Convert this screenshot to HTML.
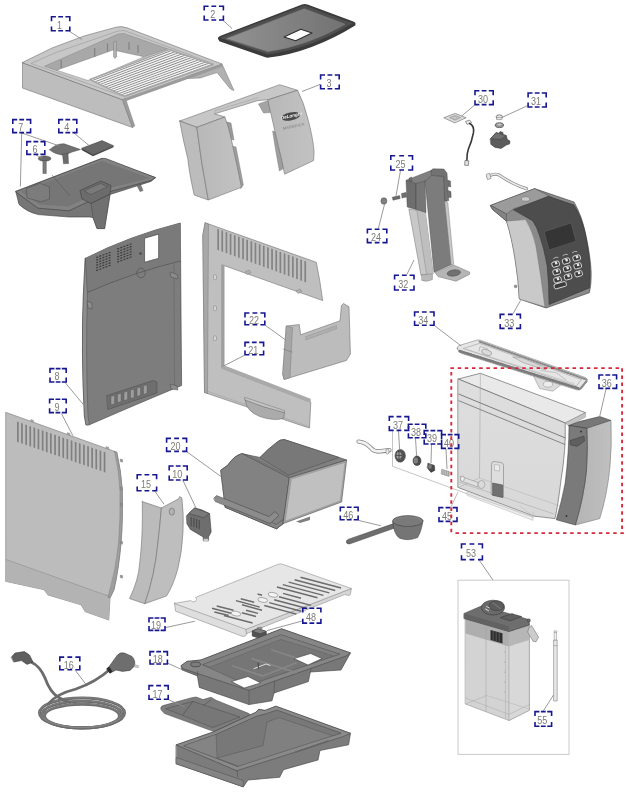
<!DOCTYPE html>
<html lang="en"><head><meta charset="utf-8"><title>Exploded parts diagram</title>
<style>
html,body{margin:0;padding:0;background:#fff}
body{width:627px;height:800px;overflow:hidden}
svg{display:block}
.n{font-family:"Liberation Sans",sans-serif;font-size:10.4px;fill:#7c7c76}
.t{font-family:"Liberation Sans",sans-serif}
</style></head><body>
<svg width="627" height="800" viewBox="0 0 627 800">
<defs>
<linearGradient id="gL" x1="0" y1="0" x2="1" y2="0"><stop offset="0" stop-color="#b8b8b8"/><stop offset="1" stop-color="#c2c2c2"/></linearGradient>
<linearGradient id="gL2" x1="0" y1="0" x2="1" y2="0"><stop offset="0" stop-color="#c7c7c7"/><stop offset="1" stop-color="#afafaf"/></linearGradient>
<linearGradient id="gLid" x1="0" y1="0" x2="1" y2="0"><stop offset="0" stop-color="#929292"/><stop offset="1" stop-color="#727272"/></linearGradient>
<linearGradient id="gD" x1="0" y1="0" x2="1" y2="1"><stop offset="0" stop-color="#7e7e7e"/><stop offset="1" stop-color="#767676"/></linearGradient>
<linearGradient id="gDoor" x1="0" y1="0" x2="1" y2="0"><stop offset="0" stop-color="#b4b4b4"/><stop offset="1" stop-color="#c0c0c0"/></linearGradient>
<linearGradient id="gTank" x1="0" y1="0" x2="0" y2="1"><stop offset="0" stop-color="#dedede"/><stop offset="1" stop-color="#d8d8d8"/></linearGradient>
<filter id="soft" x="-2%" y="-2%" width="104%" height="104%"><feGaussianBlur stdDeviation="0.45"/></filter>
</defs>
<rect width="627" height="800" fill="#fff"/>
<g filter="url(#soft)">

<g id="p1">
<polygon points="186.7,76.5 200.0,71.0 222.0,64.0 234.0,90.5 230.4,89.0 217.0,72.6 200.0,78.0 188.4,78.4" fill="#b1b1b1" stroke="#707070" stroke-width="0.5" stroke-linejoin="round" />
<polygon points="22.4,62.5 122.4,99.5 132.5,127.5 22.4,88.0" fill="#bdbdbd" stroke="#707070" stroke-width="0.6" stroke-linejoin="round" />
<polygon points="122.4,99.5 125.5,98.6 134.8,126.0 132.5,127.5" fill="#9d9d9d" stroke="#707070" stroke-width="0.4" stroke-linejoin="round" />
<path d="M22.4,62.5 L52,48 L84,36 L116,27.2 Q121,25.8 127,27.8 L222,64 L122.4,99.5 Z" fill="#c7c7c7" stroke="#707070" stroke-width="0.6" stroke-linejoin="round" stroke-linecap="round" />
<polygon points="44.5,66.2 118.0,34.0 124.0,33.4 212.0,64.6 205.0,66.4 167.0,49.0 144.0,56.8 113.0,50.0 56.7,70.4" fill="#a8a8a8" stroke="#868686" stroke-width="0.5" stroke-linejoin="round" />
<polygon points="31.0,63.5 56.0,52.5 118.0,31.0 124.0,30.5 214.0,64.0 122.4,96.0" fill="none" stroke="#909090" stroke-width="0.5" stroke-linejoin="round" />
<polygon points="56.7,70.2 113.0,50.0 144.0,56.8 88.0,80.5" fill="#fff" stroke="#868686" stroke-width="0.5" stroke-linejoin="round" />
<line x1="61.2" y1="60.0" x2="61.2" y2="68.0" stroke="#848484" stroke-width="1.3" />
<line x1="94.7" y1="48.0" x2="94.7" y2="57.0" stroke="#848484" stroke-width="1.3" />
<line x1="107.5" y1="43.5" x2="107.5" y2="51.5" stroke="#848484" stroke-width="1.3" />
<line x1="129.0" y1="42.0" x2="129.0" y2="50.0" stroke="#848484" stroke-width="1.3" />
<line x1="138.0" y1="45.0" x2="138.0" y2="53.0" stroke="#848484" stroke-width="1.3" />
<polygon points="113.6,42.0 116.4,41.4 116.6,57.0 115.0,58.4 113.6,57.0" fill="#b1b1b1" stroke="#7c7c7c" stroke-width="0.5" stroke-linejoin="round" />
<polygon points="90.0,79.6 169.0,49.6 213.0,64.6 124.6,96.4" fill="#cfcfcf" stroke="#808080" stroke-width="0.6" stroke-linejoin="round" />
<line x1="90.9" y1="80.1" x2="170.2" y2="50.0" stroke="#f4f4f4" stroke-width="1.4" />
<line x1="92.1" y1="80.6" x2="171.7" y2="50.5" stroke="#858585" stroke-width="0.9" />
<line x1="93.6" y1="81.3" x2="173.6" y2="51.2" stroke="#f4f4f4" stroke-width="1.4" />
<line x1="94.8" y1="81.9" x2="175.1" y2="51.7" stroke="#858585" stroke-width="0.9" />
<line x1="96.3" y1="82.6" x2="177.0" y2="52.3" stroke="#f4f4f4" stroke-width="1.4" />
<line x1="97.5" y1="83.2" x2="178.5" y2="52.8" stroke="#858585" stroke-width="0.9" />
<line x1="98.9" y1="83.9" x2="180.3" y2="53.5" stroke="#f4f4f4" stroke-width="1.4" />
<line x1="100.1" y1="84.5" x2="181.9" y2="54.0" stroke="#858585" stroke-width="0.9" />
<line x1="101.6" y1="85.2" x2="183.7" y2="54.6" stroke="#f4f4f4" stroke-width="1.4" />
<line x1="102.8" y1="85.8" x2="185.2" y2="55.1" stroke="#858585" stroke-width="0.9" />
<line x1="104.2" y1="86.5" x2="187.1" y2="55.8" stroke="#f4f4f4" stroke-width="1.4" />
<line x1="105.4" y1="87.1" x2="188.6" y2="56.3" stroke="#858585" stroke-width="0.9" />
<line x1="106.9" y1="87.8" x2="190.5" y2="56.9" stroke="#f4f4f4" stroke-width="1.4" />
<line x1="108.1" y1="88.4" x2="192.0" y2="57.4" stroke="#858585" stroke-width="0.9" />
<line x1="109.6" y1="89.1" x2="193.9" y2="58.1" stroke="#f4f4f4" stroke-width="1.4" />
<line x1="110.8" y1="89.7" x2="195.4" y2="58.6" stroke="#858585" stroke-width="0.9" />
<line x1="112.2" y1="90.4" x2="197.3" y2="59.2" stroke="#f4f4f4" stroke-width="1.4" />
<line x1="113.4" y1="91.0" x2="198.8" y2="59.8" stroke="#858585" stroke-width="0.9" />
<line x1="114.9" y1="91.7" x2="200.6" y2="60.4" stroke="#f4f4f4" stroke-width="1.4" />
<line x1="116.1" y1="92.3" x2="202.2" y2="60.9" stroke="#858585" stroke-width="0.9" />
<line x1="117.5" y1="93.0" x2="204.0" y2="61.5" stroke="#f4f4f4" stroke-width="1.4" />
<line x1="118.7" y1="93.6" x2="205.6" y2="62.1" stroke="#858585" stroke-width="0.9" />
<line x1="120.2" y1="94.3" x2="207.4" y2="62.7" stroke="#f4f4f4" stroke-width="1.4" />
<line x1="121.4" y1="94.8" x2="208.9" y2="63.2" stroke="#858585" stroke-width="0.9" />
<line x1="122.9" y1="95.6" x2="210.8" y2="63.8" stroke="#f4f4f4" stroke-width="1.4" />
<line x1="124.1" y1="96.1" x2="212.3" y2="64.4" stroke="#858585" stroke-width="0.9" />
<polygon points="90.0,79.6 169.0,49.6 213.0,64.6 124.6,96.4" fill="none" stroke="#b8b8b8" stroke-width="1.6" stroke-linejoin="round" />
<polygon points="90.0,79.6 169.0,49.6 213.0,64.6 124.6,96.4" fill="none" stroke="#808080" stroke-width="0.4" stroke-linejoin="round" />
<polygon points="122.4,99.5 222.0,64.0 222.8,66.5 123.3,102.0" fill="#9b9b9b" />
</g>
<g id="p2">
<path d="M217.9,38.6 Q217.5,37 220,36 L302,4.4 Q304.6,3.4 307.5,4.5 L354,21.8 Q356.4,23 355.2,25.4 Q312,52 269,57.6 Q266.5,57.8 264,56.8 L219.3,41.2 Z" fill="#3a3a3a" />
<path d="M219.6,37.8 L304.3,5.2 L352.6,23.2 Q311,48.6 267.6,54.4 Z" fill="#505050" />
<path d="M226.5,38.6 L304.3,8.8 L345,24.2 Q308,45.6 268,51.6 Z" fill="url(#gLid)" stroke="#7e7e7e" stroke-width="0.6" stroke-linejoin="round" stroke-linecap="round" />
<polygon points="284.0,37.0 300.8,29.3 312.0,33.0 295.7,40.8" fill="#fff" stroke="#2e2e2e" stroke-width="1.1" stroke-linejoin="round" />
</g>
<g id="p3">
<polygon points="225.0,121.5 231.0,123.0 234.0,140.0 230.0,139.0" fill="#9b9b9b" stroke="#707070" stroke-width="0.4" stroke-linejoin="round" />
<polygon points="232.0,146.0 236.0,147.0 243.4,185.0 240.6,188.6 238.5,176.0" fill="#9e9e9e" stroke="#707070" stroke-width="0.4" stroke-linejoin="round" />
<polygon points="258.5,104.0 268.2,100.5 270.5,112.5 263.5,113.0" fill="#a4a4a4" stroke="#707070" stroke-width="0.4" stroke-linejoin="round" />
<polygon points="272.6,131.0 277.0,132.6 284.0,168.0 279.4,171.0 275.6,150.0" fill="#9e9e9e" stroke="#707070" stroke-width="0.4" stroke-linejoin="round" />
<polygon points="179.7,121.0 279.7,84.7 297.6,90.3 268.2,99.7 258.0,100.5 214.7,113.8 224.9,117.0 196.8,127.3" fill="#c7c7c7" stroke="#707070" stroke-width="0.6" stroke-linejoin="round" />
<path d="M214.7,113.8 L214.7,110.9 L258,97.6" fill="none" stroke="#929292" stroke-width="0.4" stroke-linejoin="round" stroke-linecap="round" />
<path d="M179.7,121 L196.8,127.3 Q201,162 208.3,200 L194.2,195 Q189,172 187.9,159.2 Q183,140 179.7,121 Z" fill="#bcbcbc" stroke="#707070" stroke-width="0.6" stroke-linejoin="round" stroke-linecap="round" />
<path d="M196.8,127.3 L224.9,117 Q229,128 231.2,138.8 L238.9,174.5 L241.4,187.3 L208.3,200 Q201,162 196.8,127.3 Z" fill="url(#gL)" stroke="#707070" stroke-width="0.6" stroke-linejoin="round" stroke-linecap="round" />
<path d="M268.2,99.7 L297.6,90.3 Q304,103 307.8,118.4 Q313,138 314.1,151.5 L313.6,160.6 L284.6,174.2 Q281.5,158 278.4,146.4 L272,118.4 Z" fill="url(#gL)" stroke="#707070" stroke-width="0.6" stroke-linejoin="round" stroke-linecap="round" />
<ellipse cx="290.8" cy="116.4" rx="9.8" ry="4" transform="rotate(-12 290.8 116.4)" fill="#484848"/>
<text x="291.3" y="117.3" text-anchor="middle" class="t" font-size="4.6" font-weight="bold" font-style="italic" fill="#fafafa" transform="rotate(-12 291.3 115.8)">DeLonghi</text>
<text x="293.6" y="127.6" text-anchor="middle" class="t" font-size="3.9" fill="#7c7c7c" transform="rotate(-12 293.6 126)">MAGNIFICA</text>
</g>
<g id="p4">
<polygon points="81.6,148.3 102.0,140.6 113.5,145.7 93.0,154.6" fill="#686868" stroke="#3e3e3e" stroke-width="0.5" stroke-linejoin="round" />
<polygon points="81.6,148.3 93.0,154.6 93.0,156.2 81.6,150.0" fill="#3f3f3f" />
<polygon points="93.0,154.6 113.5,145.7 113.5,147.2 93.0,156.2" fill="#484848" />
<path d="M49.7,149.8 Q56,143.5 64,143.8 L80.4,149.5 L72,152 L64,155.2 Q55,154.5 49.7,149.8 Z" fill="#717171" stroke="#3e3e3e" stroke-width="0.5" stroke-linejoin="round" stroke-linecap="round" />
<polygon points="62.5,154.0 68.0,153.0 68.5,163.5 63.5,163.8" fill="#6c6c6c" stroke="#3e3e3e" stroke-width="0.4" stroke-linejoin="round" />
<ellipse cx="44.6" cy="158.6" rx="6.3" ry="2.6" fill="#6a6a6a" stroke="#3b3b3b" stroke-width="0.5"/>
<polygon points="42.9,160.5 46.3,160.5 46.3,173.5 42.9,173.5" fill="#7c7c7c" stroke="#3e3e3e" stroke-width="0.4" stroke-linejoin="round" />
</g>
<g id="p7">
<path d="M15.8,191.6 L19,204.4 Q27,212 38.3,214.6 L68.9,217 L89.3,217 L93,217.5 L97,228.6 L104.6,228.6 L110,194.5 L151,181.4 L155.6,177.6 L102,158.5 Z" fill="#767676" stroke="#3e3e3e" stroke-width="0.6" stroke-linejoin="round" stroke-linecap="round" />
<polygon points="91.0,203.0 110.0,194.5 104.6,228.6 97.0,228.6 93.0,217.5" fill="#6f6f6f" stroke="#3e3e3e" stroke-width="0.4" stroke-linejoin="round" />
<path d="M15.8,191.6 L102,158.5 Q104,158 106,158.6 L155.6,177.6 L151,180.4 L110,191.6 L68.9,210.8 L38.3,208.2 Z" fill="#828282" stroke="#3e3e3e" stroke-width="0.6" stroke-linejoin="round" stroke-linecap="round" />
<path d="M21,191.6 L102,161 L150,178 L108,188.6 L68,206.6 L39,204.6 Z" fill="#767676" />
<polygon points="26.5,188.5 40.0,183.2 49.5,187.0 49.5,199.0 41.0,201.8 27.0,198.0" fill="#7b7b7b" stroke="#4c4c4c" stroke-width="0.5" stroke-linejoin="round" />
<polygon points="80.0,190.5 101.0,181.0 111.0,185.5 110.0,194.0 91.0,203.5 82.0,199.0" fill="#6c6c6c" stroke="#3f3f3f" stroke-width="0.6" stroke-linejoin="round" />
<polygon points="84.0,190.8 100.5,183.5 107.5,186.7 91.0,194.6" fill="#7a7a7a" stroke="#3f3f3f" stroke-width="0.4" stroke-linejoin="round" />
<line x1="52.0" y1="175.0" x2="70.0" y2="196.0" stroke="#535353" stroke-width="0.5" />
<polygon points="137.0,185.4 140.5,184.4 143.0,190.6 140.0,191.6" fill="#7c7c7c" stroke="#3e3e3e" stroke-width="0.4" stroke-linejoin="round" />
</g>
<g id="p8">
<path d="M85.4,258.3 Q129,236 180.3,223 L181.6,385.5 Q137,404 89.3,424.8 L86,425 L84.4,416 Q81,350 83.4,294 Z" fill="#7d7d7d" stroke="#3e3e3e" stroke-width="0.6" stroke-linejoin="round" stroke-linecap="round" />
<path d="M85.4,258.3 Q129,236 180.3,223 L180.6,261 Q134,272 86,293 Z" fill="#7a7a7a" />
<path d="M86,293 Q134,272 180.6,261" fill="none" stroke="#4e4e4e" stroke-width="0.6" stroke-linejoin="round" stroke-linecap="round" />
<path d="M85.4,258.3 L83.4,294 Q81,350 84.4,416 L86,425 L89.3,424.8 L88,416 Q85.5,350 87.4,296 Z" fill="#8e8e8e" stroke="#3e3e3e" stroke-width="0.4" stroke-linejoin="round" stroke-linecap="round" />
<path d="M174,264 L174.6,385 " fill="none" stroke="#656565" stroke-width="0.6" stroke-linejoin="round" stroke-linecap="round" />
<polygon points="144.6,238.2 158.6,234.2 158.6,258.3 144.6,262.2" fill="#fff" stroke="#3b3b3b" stroke-width="0.6" stroke-linejoin="round" />
<rect x="96.0" y="257.0" width="2.1" height="1.2" fill="#3d3d3d" transform="rotate(-20 96.0 257.0)"/>
<rect x="99.1" y="255.8" width="2.1" height="1.2" fill="#3d3d3d" transform="rotate(-20 99.1 255.8)"/>
<rect x="102.2" y="254.7" width="2.1" height="1.2" fill="#3d3d3d" transform="rotate(-20 102.2 254.7)"/>
<rect x="105.3" y="253.6" width="2.1" height="1.2" fill="#3d3d3d" transform="rotate(-20 105.3 253.6)"/>
<rect x="108.4" y="252.4" width="2.1" height="1.2" fill="#3d3d3d" transform="rotate(-20 108.4 252.4)"/>
<rect x="96.0" y="259.6" width="2.1" height="1.2" fill="#3d3d3d" transform="rotate(-20 96.0 259.6)"/>
<rect x="99.1" y="258.5" width="2.1" height="1.2" fill="#3d3d3d" transform="rotate(-20 99.1 258.5)"/>
<rect x="102.2" y="257.3" width="2.1" height="1.2" fill="#3d3d3d" transform="rotate(-20 102.2 257.3)"/>
<rect x="105.3" y="256.2" width="2.1" height="1.2" fill="#3d3d3d" transform="rotate(-20 105.3 256.2)"/>
<rect x="108.4" y="255.0" width="2.1" height="1.2" fill="#3d3d3d" transform="rotate(-20 108.4 255.0)"/>
<rect x="96.0" y="262.2" width="2.1" height="1.2" fill="#3d3d3d" transform="rotate(-20 96.0 262.2)"/>
<rect x="99.1" y="261.1" width="2.1" height="1.2" fill="#3d3d3d" transform="rotate(-20 99.1 261.1)"/>
<rect x="102.2" y="259.9" width="2.1" height="1.2" fill="#3d3d3d" transform="rotate(-20 102.2 259.9)"/>
<rect x="105.3" y="258.8" width="2.1" height="1.2" fill="#3d3d3d" transform="rotate(-20 105.3 258.8)"/>
<rect x="108.4" y="257.6" width="2.1" height="1.2" fill="#3d3d3d" transform="rotate(-20 108.4 257.6)"/>
<rect x="96.0" y="264.8" width="2.1" height="1.2" fill="#3d3d3d" transform="rotate(-20 96.0 264.8)"/>
<rect x="99.1" y="263.7" width="2.1" height="1.2" fill="#3d3d3d" transform="rotate(-20 99.1 263.7)"/>
<rect x="102.2" y="262.5" width="2.1" height="1.2" fill="#3d3d3d" transform="rotate(-20 102.2 262.5)"/>
<rect x="105.3" y="261.4" width="2.1" height="1.2" fill="#3d3d3d" transform="rotate(-20 105.3 261.4)"/>
<rect x="108.4" y="260.2" width="2.1" height="1.2" fill="#3d3d3d" transform="rotate(-20 108.4 260.2)"/>
<rect x="96.0" y="267.4" width="2.1" height="1.2" fill="#3d3d3d" transform="rotate(-20 96.0 267.4)"/>
<rect x="99.1" y="266.2" width="2.1" height="1.2" fill="#3d3d3d" transform="rotate(-20 99.1 266.2)"/>
<rect x="102.2" y="265.1" width="2.1" height="1.2" fill="#3d3d3d" transform="rotate(-20 102.2 265.1)"/>
<rect x="105.3" y="263.9" width="2.1" height="1.2" fill="#3d3d3d" transform="rotate(-20 105.3 263.9)"/>
<rect x="108.4" y="262.8" width="2.1" height="1.2" fill="#3d3d3d" transform="rotate(-20 108.4 262.8)"/>
<rect x="96.0" y="270.0" width="2.1" height="1.2" fill="#3d3d3d" transform="rotate(-20 96.0 270.0)"/>
<rect x="99.1" y="268.9" width="2.1" height="1.2" fill="#3d3d3d" transform="rotate(-20 99.1 268.9)"/>
<rect x="102.2" y="267.7" width="2.1" height="1.2" fill="#3d3d3d" transform="rotate(-20 102.2 267.7)"/>
<rect x="105.3" y="266.6" width="2.1" height="1.2" fill="#3d3d3d" transform="rotate(-20 105.3 266.6)"/>
<rect x="108.4" y="265.4" width="2.1" height="1.2" fill="#3d3d3d" transform="rotate(-20 108.4 265.4)"/>
<rect x="117.0" y="248.5" width="2.1" height="1.2" fill="#3d3d3d" transform="rotate(-20 117.0 248.5)"/>
<rect x="120.1" y="247.3" width="2.1" height="1.2" fill="#3d3d3d" transform="rotate(-20 120.1 247.3)"/>
<rect x="123.2" y="246.2" width="2.1" height="1.2" fill="#3d3d3d" transform="rotate(-20 123.2 246.2)"/>
<rect x="126.3" y="245.1" width="2.1" height="1.2" fill="#3d3d3d" transform="rotate(-20 126.3 245.1)"/>
<rect x="129.4" y="243.9" width="2.1" height="1.2" fill="#3d3d3d" transform="rotate(-20 129.4 243.9)"/>
<rect x="117.0" y="251.1" width="2.1" height="1.2" fill="#3d3d3d" transform="rotate(-20 117.0 251.1)"/>
<rect x="120.1" y="249.9" width="2.1" height="1.2" fill="#3d3d3d" transform="rotate(-20 120.1 249.9)"/>
<rect x="123.2" y="248.8" width="2.1" height="1.2" fill="#3d3d3d" transform="rotate(-20 123.2 248.8)"/>
<rect x="126.3" y="247.7" width="2.1" height="1.2" fill="#3d3d3d" transform="rotate(-20 126.3 247.7)"/>
<rect x="129.4" y="246.5" width="2.1" height="1.2" fill="#3d3d3d" transform="rotate(-20 129.4 246.5)"/>
<rect x="117.0" y="253.7" width="2.1" height="1.2" fill="#3d3d3d" transform="rotate(-20 117.0 253.7)"/>
<rect x="120.1" y="252.5" width="2.1" height="1.2" fill="#3d3d3d" transform="rotate(-20 120.1 252.5)"/>
<rect x="123.2" y="251.4" width="2.1" height="1.2" fill="#3d3d3d" transform="rotate(-20 123.2 251.4)"/>
<rect x="126.3" y="250.2" width="2.1" height="1.2" fill="#3d3d3d" transform="rotate(-20 126.3 250.2)"/>
<rect x="129.4" y="249.1" width="2.1" height="1.2" fill="#3d3d3d" transform="rotate(-20 129.4 249.1)"/>
<rect x="117.0" y="256.3" width="2.1" height="1.2" fill="#3d3d3d" transform="rotate(-20 117.0 256.3)"/>
<rect x="120.1" y="255.2" width="2.1" height="1.2" fill="#3d3d3d" transform="rotate(-20 120.1 255.2)"/>
<rect x="123.2" y="254.0" width="2.1" height="1.2" fill="#3d3d3d" transform="rotate(-20 123.2 254.0)"/>
<rect x="126.3" y="252.9" width="2.1" height="1.2" fill="#3d3d3d" transform="rotate(-20 126.3 252.9)"/>
<rect x="129.4" y="251.7" width="2.1" height="1.2" fill="#3d3d3d" transform="rotate(-20 129.4 251.7)"/>
<rect x="117.0" y="258.9" width="2.1" height="1.2" fill="#3d3d3d" transform="rotate(-20 117.0 258.9)"/>
<rect x="120.1" y="257.8" width="2.1" height="1.2" fill="#3d3d3d" transform="rotate(-20 120.1 257.8)"/>
<rect x="123.2" y="256.6" width="2.1" height="1.2" fill="#3d3d3d" transform="rotate(-20 123.2 256.6)"/>
<rect x="126.3" y="255.4" width="2.1" height="1.2" fill="#3d3d3d" transform="rotate(-20 126.3 255.4)"/>
<rect x="129.4" y="254.3" width="2.1" height="1.2" fill="#3d3d3d" transform="rotate(-20 129.4 254.3)"/>
<rect x="117.0" y="261.5" width="2.1" height="1.2" fill="#3d3d3d" transform="rotate(-20 117.0 261.5)"/>
<rect x="120.1" y="260.4" width="2.1" height="1.2" fill="#3d3d3d" transform="rotate(-20 120.1 260.4)"/>
<rect x="123.2" y="259.2" width="2.1" height="1.2" fill="#3d3d3d" transform="rotate(-20 123.2 259.2)"/>
<rect x="126.3" y="258.1" width="2.1" height="1.2" fill="#3d3d3d" transform="rotate(-20 126.3 258.1)"/>
<rect x="129.4" y="256.9" width="2.1" height="1.2" fill="#3d3d3d" transform="rotate(-20 129.4 256.9)"/>
<ellipse cx="141" cy="273" rx="4.2" ry="4.8" fill="none" stroke="#4e4e4e" stroke-width="0.6"/>
<polygon points="170.0,272.0 177.0,274.5 178.0,279.0 171.0,277.0" fill="#8c8c8c" stroke="#3e3e3e" stroke-width="0.4" stroke-linejoin="round" />
<polygon points="170.0,384.0 177.0,386.0 178.0,390.0 171.0,389.0" fill="#8c8c8c" stroke="#3e3e3e" stroke-width="0.4" stroke-linejoin="round" />
<polygon points="87.0,301.0 92.0,303.0 92.0,309.0 88.0,308.0" fill="#8c8c8c" stroke="#3e3e3e" stroke-width="0.4" stroke-linejoin="round" />
<circle cx="140.5" cy="253.5" r="1.3" fill="#4c4c4c"/>
<path d="M107,395.5 L153,380.5 L157,382 L157,393 L108,409.5 Z" fill="#6e6e6e" stroke="#4c4c4c" stroke-width="0.5" stroke-linejoin="round" stroke-linecap="round" />
<polygon points="111.0,396.5 114.6,395.3 114.6,403.7 111.0,404.9" fill="#9d9d9d" stroke="#3f3f3f" stroke-width="0.3" stroke-linejoin="round" />
<polygon points="117.5,394.4 121.1,393.2 121.1,401.6 117.5,402.8" fill="#9d9d9d" stroke="#3f3f3f" stroke-width="0.3" stroke-linejoin="round" />
<polygon points="124.0,392.3 127.6,391.1 127.6,399.5 124.0,400.7" fill="#9d9d9d" stroke="#3f3f3f" stroke-width="0.3" stroke-linejoin="round" />
<polygon points="130.5,390.2 134.1,389.0 134.1,397.4 130.5,398.6" fill="#9d9d9d" stroke="#3f3f3f" stroke-width="0.3" stroke-linejoin="round" />
<polygon points="137.0,388.1 140.6,386.9 140.6,395.3 137.0,396.5" fill="#9d9d9d" stroke="#3f3f3f" stroke-width="0.3" stroke-linejoin="round" />
<polygon points="143.5,386.0 147.1,384.8 147.1,393.2 143.5,394.4" fill="#9d9d9d" stroke="#3f3f3f" stroke-width="0.3" stroke-linejoin="round" />
</g>
<g id="p21">
<path d="M205.3,222.8 L316.3,262.3 Q320,280 322.7,300.6 L221.9,264.8 L221.9,368.2 L310.8,402.4 L309.5,428 L300,425 L204.5,392.5 L202.8,235.5 Z" fill="#bfbfbf" stroke="#707070" stroke-width="0.6" stroke-linejoin="round" stroke-linecap="round" />
<polygon points="205.3,222.8 208.5,224.0 207.5,393.5 204.5,392.5 202.8,235.5" fill="#a8a8a8" stroke="#707070" stroke-width="0.4" stroke-linejoin="round" />
<polygon points="221.9,264.8 224.5,265.8 224.5,365.5 221.9,368.2" fill="#9e9e9e" />
<polygon points="221.9,368.2 224.5,365.5 310.6,398.8 310.8,402.4" fill="#aaaaaa" />
<line x1="205.4" y1="390.6" x2="309.3" y2="426.6" stroke="#9a9a9a" stroke-width="0.5" />
<polygon points="217.3,228.8 219.0,229.4 219.0,250.4 217.3,249.8" fill="#838383" />
<polygon points="221.4,230.3 223.1,230.9 223.1,251.9 221.4,251.3" fill="#838383" />
<polygon points="225.6,231.8 227.3,232.4 227.3,253.4 225.6,252.8" fill="#838383" />
<polygon points="229.7,233.4 231.4,234.0 231.4,255.0 229.7,254.4" fill="#838383" />
<polygon points="233.9,234.9 235.6,235.5 235.6,256.5 233.9,255.9" fill="#838383" />
<polygon points="238.0,236.4 239.7,237.0 239.7,258.0 238.0,257.4" fill="#838383" />
<polygon points="242.2,237.9 243.9,238.5 243.9,259.5 242.2,258.9" fill="#838383" />
<polygon points="246.3,239.5 248.0,240.1 248.0,261.1 246.3,260.5" fill="#838383" />
<polygon points="250.5,241.0 252.2,241.6 252.2,262.6 250.5,262.0" fill="#838383" />
<polygon points="254.6,242.5 256.3,243.1 256.3,264.1 254.6,263.5" fill="#838383" />
<polygon points="258.8,244.0 260.5,244.6 260.5,265.6 258.8,265.0" fill="#838383" />
<polygon points="262.9,245.6 264.6,246.2 264.6,267.2 262.9,266.6" fill="#838383" />
<polygon points="267.1,247.1 268.8,247.7 268.8,268.7 267.1,268.1" fill="#838383" />
<polygon points="271.2,248.6 272.9,249.2 272.9,270.2 271.2,269.6" fill="#838383" />
<polygon points="275.4,250.1 277.1,250.7 277.1,271.7 275.4,271.1" fill="#838383" />
<polygon points="279.5,251.7 281.2,252.3 281.2,273.3 279.5,272.7" fill="#838383" />
<polygon points="283.7,253.2 285.4,253.8 285.4,274.8 283.7,274.2" fill="#838383" />
<polygon points="287.8,254.7 289.5,255.3 289.5,276.3 287.8,275.7" fill="#838383" />
<polygon points="292.0,256.2 293.7,256.8 293.7,277.8 292.0,277.2" fill="#838383" />
<polygon points="296.1,257.8 297.8,258.4 297.8,279.4 296.1,278.8" fill="#838383" />
<polygon points="300.3,259.3 302.0,259.9 302.0,280.9 300.3,280.3" fill="#838383" />
<polygon points="304.4,260.8 306.1,261.4 306.1,282.4 304.4,281.8" fill="#838383" />
<polygon points="245.0,272.0 249.0,270.0 251.0,272.5 247.0,274.5" fill="#b1b1b1" stroke="#707070" stroke-width="0.4" stroke-linejoin="round" />
<polygon points="296.0,291.0 300.0,289.0 302.0,291.5 298.0,293.5" fill="#b1b1b1" stroke="#707070" stroke-width="0.4" stroke-linejoin="round" />
<rect x="213.5" y="275" width="3" height="4.6" rx="0.8" fill="#d3d3d3" stroke="#828282" stroke-width="0.5"/>
<rect x="213.5" y="306" width="3" height="4.6" rx="0.8" fill="#d3d3d3" stroke="#828282" stroke-width="0.5"/>
<rect x="213.5" y="336" width="3" height="4.6" rx="0.8" fill="#d3d3d3" stroke="#828282" stroke-width="0.5"/>
<path d="M245.2,400 Q246,411 260,416.6 Q275,421.6 283.8,418 L284.5,412.6 Q262,407 245.2,400 Z" fill="#ababab" stroke="#707070" stroke-width="0.6" stroke-linejoin="round" stroke-linecap="round" />
<path d="M245.2,400 Q262,407 284.5,412.6 L284.6,410.6 L245,397.4 Z" fill="#c4c4c4" stroke="#707070" stroke-width="0.5" stroke-linejoin="round" stroke-linecap="round" />
</g>
<g id="p22">
<path d="M286.6,326 L299.3,324.6 L300.6,334.8 L340,320.8 L341.4,305.5 L343.5,303.5 L349,306.8 L350.4,354 L346.5,360.4 L284,379.5 L282.8,374.4 Z" fill="#bcbcbc" stroke="#707070" stroke-width="0.6" stroke-linejoin="round" stroke-linecap="round" />
<path d="M286.6,326 L292.5,327.5 L290,377.6 L284,379.5 L282.8,374.4 Z" fill="#a6a6a6" stroke="#707070" stroke-width="0.4" stroke-linejoin="round" stroke-linecap="round" />
<path d="M306,336.5 L336.5,325.6 L336.5,328.8 L306,339.8 Z" fill="#afafaf" stroke="#868686" stroke-width="0.4" stroke-linejoin="round" stroke-linecap="round" />
<path d="M283,349 L292,352" fill="none" stroke="#707070" stroke-width="0.5" stroke-linejoin="round" stroke-linecap="round" />
</g>
<ellipse cx="383.9" cy="201" rx="3" ry="3.3" fill="#808080" stroke="#4c4c4c" stroke-width="0.5"/>
<polygon points="392.3,197.2 399.6,195.6 400.2,198.6 393.0,200.2" fill="#6c6c6c" stroke="#3e3e3e" stroke-width="0.4" stroke-linejoin="round" />
<polygon points="401.5,193.5 406.0,192.5 406.5,197.0 402.0,198.0" fill="#717171" stroke="#3e3e3e" stroke-width="0.4" stroke-linejoin="round" />
<g id="p32">
<polygon points="425.0,181.0 431.6,175.2 443.8,176.3 452.7,264.0 434.0,272.2" fill="#7c7c7c" stroke="#3e3e3e" stroke-width="0.4" stroke-linejoin="round" />
<polygon points="444.6,200.7 447.8,202.3 453.7,264.0 451.2,265.6" fill="#c7c7c7" stroke="#707070" stroke-width="0.4" stroke-linejoin="round" />
<polygon points="408.8,208.8 425.4,212.0 433.2,273.8 421.0,275.4" fill="#c8c8c8" stroke="#707070" stroke-width="0.5" stroke-linejoin="round" />
<polygon points="416.8,210.3 425.4,212.0 433.2,273.8 426.6,274.7" fill="#bebebe" />
<line x1="416.8" y1="210.3" x2="426.6" y2="274.7" stroke="#8a8a8a" stroke-width="0.5" />
<path d="M421.8,274.8 L432.4,273.8 L432.4,279.6 Q427,282.6 421.8,280.4 Z" fill="#b9b9b9" stroke="#707070" stroke-width="0.4" stroke-linejoin="round" stroke-linecap="round" />
<polygon points="434.8,272.2 453.5,264.9 469.8,272.2 469.4,274.4 456.0,281.2 438.0,276.6" fill="#b5b5b5" stroke="#707070" stroke-width="0.5" stroke-linejoin="round" />
<ellipse cx="453.8" cy="273" rx="6.8" ry="3.1" transform="rotate(-8 453.8 273)" fill="#6f6f6f" stroke="#4c4c4c" stroke-width="0.5"/>
<polygon points="430.8,170.6 433.0,168.8 443.8,169.0 447.0,173.0 448.7,200.7 444.6,200.7 443.8,176.3 431.6,175.4" fill="#727272" stroke="#3e3e3e" stroke-width="0.4" stroke-linejoin="round" />
<polygon points="406.0,180.3 412.0,177.9 430.8,170.6 431.6,175.4 425.0,181.0 416.0,183.6" fill="#808080" stroke="#3e3e3e" stroke-width="0.4" stroke-linejoin="round" />
<polygon points="406.0,180.3 416.0,183.6 416.0,209.4 407.2,207.0" fill="#6e6e6e" stroke="#3e3e3e" stroke-width="0.4" stroke-linejoin="round" />
<polygon points="416.0,183.6 425.0,181.0 426.0,212.6 416.0,209.4" fill="#767676" stroke="#3e3e3e" stroke-width="0.4" stroke-linejoin="round" />
<polygon points="409.0,178.0 411.6,177.0 412.0,181.6 409.4,181.0" fill="#6e6e6e" stroke="#3e3e3e" stroke-width="0.3" stroke-linejoin="round" />
<polygon points="447.6,180.0 450.5,181.0 450.8,187.0 448.0,186.6" fill="#6f6f6f" stroke="#3e3e3e" stroke-width="0.3" stroke-linejoin="round" />
<polygon points="448.2,190.5 451.0,191.5 451.2,197.5 448.6,197.5" fill="#6f6f6f" stroke="#3e3e3e" stroke-width="0.3" stroke-linejoin="round" />
</g>
<g id="p30">
<polygon points="443.8,117.8 455.3,113.3 466.1,117.8 454.7,122.9" fill="#dcdcdc" stroke="#6a6a6a" stroke-width="0.6" stroke-linejoin="round" />
<polygon points="449.5,117.6 455.3,115.4 460.6,117.6 455.0,120.2" fill="#c4c4c4" stroke="#808080" stroke-width="0.5" stroke-linejoin="round" />
<circle cx="455" cy="117.8" r="1.1" fill="#f4f4f4" stroke="#777" stroke-width="0.4"/>
<polygon points="465.5,121.4 469.8,120.2 471.6,122.8 467.2,124.4" fill="#ececec" stroke="#555555" stroke-width="0.6" stroke-linejoin="round" />
<path d="M469.6,123.4 Q474.6,125.6 473.4,133 Q471.6,142 468.4,149 Q466.6,154 466.9,160.4" fill="none" stroke="#383838" stroke-width="1.6" stroke-linejoin="round" stroke-linecap="round" />
<polygon points="465.0,160.4 468.8,160.8 468.4,165.6 464.6,165.2" fill="#e0e0e0" stroke="#555555" stroke-width="0.6" stroke-linejoin="round" />
</g>
<g id="p31">
<ellipse cx="499.3" cy="116.8" rx="3.2" ry="1.9" fill="#f0f0f0" stroke="#5a5a5a" stroke-width="0.8"/>
<polygon points="496.4,117.4 502.2,117.4 502.0,119.6 496.6,119.6" fill="#e4e4e4" stroke="#6a6a6a" stroke-width="0.5" stroke-linejoin="round" />
<ellipse cx="499.4" cy="125.2" rx="4.2" ry="2.4" fill="#9a9a9a" stroke="#444444" stroke-width="0.7"/>
<ellipse cx="499.4" cy="124.6" rx="2.6" ry="1.3" fill="#d0d0d0" stroke="#555555" stroke-width="0.4"/>
<path d="M490.4,138.8 L496.1,132.6 L499,133.4 L500,131.6 L503,132.4 L503,134.4 L506.3,135.6 L507.4,139.6 L510,141 L509.6,144 L506.4,145 L501.2,148.4 L495,147.4 L491,144.5 Z" fill="#5c5c5c" stroke="#333333" stroke-width="0.5" stroke-linejoin="round" stroke-linecap="round" />
<polygon points="496.1,132.6 506.3,135.6 501.0,139.4 490.4,138.8" fill="#707070" stroke="#333333" stroke-width="0.4" stroke-linejoin="round" />
</g>
<g id="p33">
<path d="M488,176.8 Q494,172.6 499.5,175.2 Q512,184 526.7,188.8" fill="none" stroke="#828282" stroke-width="3.0" stroke-linejoin="round" stroke-linecap="round" />
<path d="M488,176.8 Q494,172.6 499.5,175.2 Q512,184 526.7,188.8" fill="none" stroke="#e4e4e6" stroke-width="1.8" stroke-linejoin="round" stroke-linecap="round" />
<polygon points="486.2,174.4 489.6,173.4 491.0,178.4 487.4,179.6" fill="#e8e8e8" stroke="#787878" stroke-width="0.6" stroke-linejoin="round" />
<path d="M490.5,205.4 L534.6,188.6 L574,202 Q582,216 585.6,234 Q590.5,256 591.2,272.2 Q591.5,284 589.4,292.7 L546,308 L519.3,299 Q518.5,280 515.5,262 Q512,238 506.5,221.2 L492.5,209.4 Z" fill="#8a8a8a" stroke="#3e3e3e" stroke-width="0.6" stroke-linejoin="round" stroke-linecap="round" />
<polygon points="490.5,205.4 534.6,188.6 551.2,197.0 514.2,208.5 506.5,214.0" fill="#9b9b9b" stroke="#3e3e3e" stroke-width="0.4" stroke-linejoin="round" />
<ellipse cx="525.6" cy="199" rx="4.2" ry="2.2" fill="#c9c9c9" stroke="#6c6c6c" stroke-width="0.5"/>
<polygon points="490.5,205.4 506.5,214.0 506.5,221.2 492.5,209.4" fill="#848484" stroke="#3e3e3e" stroke-width="0.4" stroke-linejoin="round" />
<path d="M506.5,221.2 L525.7,219.6 Q533,232 535.9,246 Q541,276 544.8,306.7 L519.3,299 Q518.5,280 515.5,262 Q512,238 506.5,221.2 Z" fill="#c9c9c9" stroke="#707070" stroke-width="0.4" stroke-linejoin="round" stroke-linecap="round" />
<path d="M513.7,209.7 L548.2,196.3 L574,204.9 Q581,216 584.5,229.8 Q589,250 589.9,266 Q590.4,278 589.3,288 L549,304.6 Q549,284 547.2,266 Q544,248 539.5,235.5 Q537,227 532.8,221 Z" fill="#4d4d4d" stroke="#2f2f2f" stroke-width="0.5" stroke-linejoin="round" stroke-linecap="round" />
<polygon points="544.3,231.7 571.1,223.0 575.9,241.2 549.1,249.9" fill="#343434" stroke="#6c6c6c" stroke-width="0.4" stroke-linejoin="round" />
<rect x="551.4" y="262.6" width="7.4" height="5.2" rx="1.5" fill="#3b3b3b" stroke="#ededed" stroke-width="0.8" transform="rotate(-16 551.4 262.6)"/>
<rect x="554.6" y="262.9" width="2.4" height="2.8" rx="0.6" fill="#e4e4e4" transform="rotate(-16 551.4 262.6)"/>
<rect x="561.9" y="259.6" width="7.4" height="5.2" rx="1.5" fill="#3b3b3b" stroke="#ededed" stroke-width="0.8" transform="rotate(-16 561.9 259.6)"/>
<rect x="565.1" y="259.9" width="2.4" height="2.8" rx="0.6" fill="#e4e4e4" transform="rotate(-16 561.9 259.6)"/>
<rect x="572.4" y="256.5" width="7.4" height="5.2" rx="1.5" fill="#3b3b3b" stroke="#ededed" stroke-width="0.8" transform="rotate(-16 572.4 256.5)"/>
<rect x="575.6" y="256.8" width="2.4" height="2.8" rx="0.6" fill="#e4e4e4" transform="rotate(-16 572.4 256.5)"/>
<rect x="552.4" y="270.5" width="7.4" height="5.2" rx="1.5" fill="#3b3b3b" stroke="#ededed" stroke-width="0.8" transform="rotate(-16 552.4 270.5)"/>
<rect x="555.6" y="270.8" width="2.4" height="2.8" rx="0.6" fill="#e4e4e4" transform="rotate(-16 552.4 270.5)"/>
<rect x="562.9" y="267.4" width="7.4" height="5.2" rx="1.5" fill="#3b3b3b" stroke="#ededed" stroke-width="0.8" transform="rotate(-16 562.9 267.4)"/>
<rect x="566.1" y="267.8" width="2.4" height="2.8" rx="0.6" fill="#e4e4e4" transform="rotate(-16 562.9 267.4)"/>
<rect x="573.4" y="264.4" width="7.4" height="5.2" rx="1.5" fill="#3b3b3b" stroke="#ededed" stroke-width="0.8" transform="rotate(-16 573.4 264.4)"/>
<rect x="576.6" y="264.7" width="2.4" height="2.8" rx="0.6" fill="#e4e4e4" transform="rotate(-16 573.4 264.4)"/>
<rect x="553.3" y="278.4" width="7.4" height="5.2" rx="1.5" fill="#3b3b3b" stroke="#ededed" stroke-width="0.8" transform="rotate(-16 553.3 278.4)"/>
<rect x="556.5" y="278.7" width="2.4" height="2.8" rx="0.6" fill="#e4e4e4" transform="rotate(-16 553.3 278.4)"/>
<rect x="563.8" y="275.4" width="7.4" height="5.2" rx="1.5" fill="#3b3b3b" stroke="#ededed" stroke-width="0.8" transform="rotate(-16 563.8 275.4)"/>
<rect x="567.0" y="275.7" width="2.4" height="2.8" rx="0.6" fill="#e4e4e4" transform="rotate(-16 563.8 275.4)"/>
<rect x="574.3" y="272.3" width="7.4" height="5.2" rx="1.5" fill="#3b3b3b" stroke="#ededed" stroke-width="0.8" transform="rotate(-16 574.3 272.3)"/>
<rect x="577.5" y="272.6" width="2.4" height="2.8" rx="0.6" fill="#e4e4e4" transform="rotate(-16 574.3 272.3)"/>
<rect x="553.6" y="284.6" width="12.4" height="4.8" rx="1.6" fill="#3b3b3b" stroke="#ededed" stroke-width="0.8" transform="rotate(-16 553.6 284.6)"/>
<path d="M553.6,258.4 q2.2,-1.9 4.4,-1.1" fill="none" stroke="#d8d8d8" stroke-width="0.7" stroke-linejoin="round" stroke-linecap="round" />
<path d="M563.0,255.5 q2.2,-1.9 4.4,-1.1" fill="none" stroke="#d8d8d8" stroke-width="0.7" stroke-linejoin="round" stroke-linecap="round" />
<path d="M572.4,252.6 q2.2,-1.9 4.4,-1.1" fill="none" stroke="#d8d8d8" stroke-width="0.7" stroke-linejoin="round" stroke-linecap="round" />
<circle cx="515.6" cy="286.4" r="1.4" fill="#9d9d9d" stroke="#4c4c4c" stroke-width="0.4"/>
</g>
<g id="tank">
<polygon points="458.2,379.0 480.4,373.3 585.6,412.7 565.2,423.0" fill="#e9e9e9" stroke="#6a6a6a" stroke-width="0.7" stroke-linejoin="round" />
<polygon points="565.2,423.0 585.6,412.7 585.6,417.0 569.0,426.0" fill="#c3c3c3" stroke="#868686" stroke-width="0.4" stroke-linejoin="round" />
<path d="M458.2,379 L565.2,423 Q566,450 561,480 Q558,505 555,518.6 L533.3,516 L458.2,487.5 Z" fill="url(#gTank)" stroke="#686868" stroke-width="0.7" stroke-linejoin="round" stroke-linecap="round" />
<line x1="480.4" y1="374.0" x2="479.5" y2="478.0" stroke="#9d9d9d" stroke-width="0.5" />
<line x1="479.5" y1="478.0" x2="458.2" y2="487.5" stroke="#a8a8a8" stroke-width="0.5" />
<line x1="479.5" y1="478.0" x2="560.0" y2="506.0" stroke="#b1b1b1" stroke-width="0.5" />
<line x1="458.6" y1="394.0" x2="565.5" y2="438.0" stroke="#626262" stroke-width="0.8" />
<line x1="458.6" y1="400.6" x2="565.2" y2="444.6" stroke="#6e6e6e" stroke-width="0.8" />
<line x1="458.4" y1="482.0" x2="554.0" y2="514.0" stroke="#a2a2a2" stroke-width="0.5" />
<path d="M520,506 L533.3,516 L533.3,512" fill="none" stroke="#b1b1b1" stroke-width="0.4" stroke-linejoin="round" stroke-linecap="round" />
<polygon points="467.0,491.5 533.0,516.2 533.0,520.4 467.0,495.4" fill="#ececee" stroke="#a8a8a8" stroke-width="0.4" stroke-linejoin="round" />
<path d="M461,476.5 L478,482.5 L478,487 L461,481 Z" fill="#e0e0e0" stroke="#868686" stroke-width="0.5" stroke-linejoin="round" stroke-linecap="round" />
<ellipse cx="462.4" cy="478.8" rx="2" ry="2.6" fill="#ececee" stroke="#868686" stroke-width="0.5"/>
<ellipse cx="481.5" cy="484.5" rx="3.4" ry="4" fill="#dbdbdb" stroke="#868686" stroke-width="0.5"/>
<path d="M491.5,464 Q491.5,461.5 494,461.5 L501,462.5 Q503.5,463 503.5,465.5 L503.5,497 L491.5,494.5 Z" fill="#dddddd" stroke="#808080" stroke-width="0.6" stroke-linejoin="round" stroke-linecap="round" />
<polygon points="492.6,483.0 502.6,485.0 502.6,497.6 492.6,495.3" fill="#717171" stroke="#3f3f3f" stroke-width="0.5" stroke-linejoin="round" />
<polygon points="494.5,464.5 499.5,465.2 499.5,471.0 494.5,470.3" fill="#ececee" stroke="#8e8e8e" stroke-width="0.4" stroke-linejoin="round" />
</g>
<g id="p34">
<path d="M533,375 L539.7,388.6 L552.9,391.2 L563,383.2 Z" fill="#dbdbdb" stroke="#868686" stroke-width="0.5" stroke-linejoin="round" stroke-linecap="round" />
<ellipse cx="548" cy="384.2" rx="4.6" ry="3" fill="#ececee" stroke="#8e8e8e" stroke-width="0.5"/>
<path d="M457.2,348.4 Q456.8,346.6 459,345.6 L476.5,340.2 Q478.7,339.6 481,340.4 L585.6,377.6 Q588.4,379 587.2,381 L581,389 Q579.4,390.6 576.5,389.8 L461.5,353.4 Q458,352 457.2,348.4 Z" fill="#e6e6e6" stroke="#858585" stroke-width="0.6" stroke-linejoin="round" stroke-linecap="round" />
<path d="M459.8,351.2 L578.6,388.6" fill="none" stroke="#7c7c7c" stroke-width="2.8" stroke-linejoin="round" stroke-linecap="round" stroke-dasharray="0.8 1.0" stroke-linecap="butt"/>
<path d="M479.5,341.6 L586,379.4" fill="none" stroke="#8a8a8a" stroke-width="2.0" stroke-linejoin="round" stroke-linecap="round" stroke-dasharray="0.8 1.1" stroke-linecap="butt"/>
<path d="M586.4,381.4 L580.4,388.6" fill="none" stroke="#8a8a8a" stroke-width="2.2" stroke-linejoin="round" stroke-linecap="round" stroke-dasharray="0.8 1.0" stroke-linecap="butt"/>
<path d="M463.5,348.4 L479.5,343.4 L581.5,379.6 L576.6,385.6 Z" fill="none" stroke="#9d9d9d" stroke-width="0.6" stroke-linejoin="round" stroke-linecap="round" />
<path d="M466,349.2 L574,383.6" fill="none" stroke="#b1b1b1" stroke-width="0.5" stroke-linejoin="round" stroke-linecap="round" />
<ellipse cx="486.6" cy="352.4" rx="5.2" ry="2.6" transform="rotate(18 486.6 352.4)" fill="#dbdbdb" stroke="#8c8c8c" stroke-width="0.6"/>
<path d="M479,351 L480,346.5 L488,349" fill="none" stroke="#929292" stroke-width="0.5" stroke-linejoin="round" stroke-linecap="round" />
<path d="M513,357 L522,357.8 L541,365.6 L546,370 L524,363 Z" fill="#d7d7d7" stroke="#8e8e8e" stroke-width="0.5" stroke-linejoin="round" stroke-linecap="round" />
<path d="M541,370.5 L556,372.6 L566,379.8" fill="none" stroke="#9d9d9d" stroke-width="0.5" stroke-linejoin="round" stroke-linecap="round" />
</g>
<g id="p36">
<polygon points="569.0,425.5 579.2,421.6 599.7,416.5 611.0,420.4 586.9,428.4" fill="#787878" stroke="#2f2f2f" stroke-width="0.5" stroke-linejoin="round" />
<path d="M586.9,428.4 L611,420.4 Q612,446 609.9,467.6 Q607,496 599.7,518.6 L575.4,525 Q584,496 586.5,470 Q588,448 586.9,428.4 Z" fill="url(#gDoor)" stroke="#656565" stroke-width="0.5" stroke-linejoin="round" stroke-linecap="round" />
<path d="M569,425.5 L586.9,428.4 Q588,448 586.5,470 Q584,496 575.4,525 L556.3,519.8 Q562,500 565.2,482.9 Q569,452 569,425.5 Z" fill="#7a7a7a" stroke="#2f2f2f" stroke-width="0.5" stroke-linejoin="round" stroke-linecap="round" />
<polygon points="570.0,440.5 584.0,436.0 584.5,441.0 577.0,446.4 570.4,444.8" fill="#5e5e5e" stroke="#3b3b3b" stroke-width="0.5" stroke-linejoin="round" />
<circle cx="581" cy="431.5" r="0.9" fill="#2f2f2f"/>
<circle cx="566.5" cy="516" r="0.9" fill="#2f2f2f"/>
</g>
<path d="M392.5,430.8 L392.5,466.3 L466,493.4" fill="none" stroke="#9d9d9d" stroke-width="0.6" stroke-linejoin="round" stroke-linecap="round" />
<path d="M457.8,492.6 L450.8,507" fill="none" stroke="#8e8e8e" stroke-width="0.6" stroke-linejoin="round" stroke-linecap="round" />
<path d="M466,493.4 L533.3,517.2" fill="none" stroke="#a8a8a8" stroke-width="0.5" stroke-linejoin="round" stroke-linecap="round" />
<g id="small">
<path d="M358.6,441.6 Q366,442.4 370.5,447.6 Q374.5,452.4 381,451.2 L389.4,450.2" fill="none" stroke="#858585" stroke-width="4.4" stroke-linejoin="round" stroke-linecap="round" />
<path d="M358.6,441.6 Q366,442.4 370.5,447.6 Q374.5,452.4 381,451.2 L389.4,450.2" fill="none" stroke="#f2f2f2" stroke-width="2.8" stroke-linejoin="round" stroke-linecap="round" />
<ellipse cx="387.4" cy="451.6" rx="1.6" ry="2.6" fill="#e8e8e8" stroke="#808080" stroke-width="0.6"/>
<ellipse cx="400.2" cy="455.8" rx="5.2" ry="6.4" fill="#535353" stroke="#2f2f2f" stroke-width="0.5"/>
<ellipse cx="399" cy="455.4" rx="2.6" ry="3.4" fill="#9d9d9d"/>
<path d="M399,452 L399,459 M396.4,455.4 L401.6,455.4" fill="none" stroke="#3b3b3b" stroke-width="0.8" stroke-linejoin="round" stroke-linecap="round" />
<ellipse cx="417" cy="460.8" rx="4" ry="4.8" fill="#4c4c4c" stroke="#2f2f2f" stroke-width="0.5"/>
<ellipse cx="415.8" cy="460.4" rx="2.2" ry="3" fill="#808080"/>
<path d="M428.2,463.2 L434.4,465.4 L434.8,470.4 L431,472.4 L427.4,468 Z" fill="#484848" stroke="#2f2f2f" stroke-width="0.5" stroke-linejoin="round" stroke-linecap="round" />
<ellipse cx="430" cy="466.5" rx="1.8" ry="2.6" fill="#7b7b7b"/>
<polygon points="441.6,469.2 449.4,471.6 449.2,476.4 441.2,474.0" fill="#c7c7c7" stroke="#808080" stroke-width="0.5" stroke-linejoin="round" />
<line x1="443.0" y1="469.8" x2="442.8" y2="474.6" stroke="#7b7b7b" stroke-width="0.5" />
<line x1="444.8" y1="470.4" x2="444.6" y2="475.2" stroke="#7b7b7b" stroke-width="0.5" />
<line x1="446.6" y1="470.9" x2="446.4" y2="475.7" stroke="#7b7b7b" stroke-width="0.5" />
<line x1="448.4" y1="471.4" x2="448.2" y2="476.2" stroke="#7b7b7b" stroke-width="0.5" />
</g>
<g id="p46">
<path d="M346.8,543 Q345.4,540.6 348,539.4 L393.6,523.6 L395.4,527.8 L350,543.8 Q348,544.4 346.8,543 Z" fill="#6e6e6e" stroke="#3b3b3b" stroke-width="0.5" stroke-linejoin="round" stroke-linecap="round" />
<path d="M392.6,521.6 Q394,535 399.6,538.2 Q408,541.4 417.6,537.6 Q421.6,531 423,520.6 Z" fill="#757575" stroke="#3b3b3b" stroke-width="0.5" stroke-linejoin="round" stroke-linecap="round" />
<ellipse cx="407.8" cy="521" rx="15.2" ry="5.4" fill="#808080" stroke="#3b3b3b" stroke-width="0.6"/>
<ellipse cx="408" cy="521.4" rx="13" ry="4.2" fill="#7a7a7a"/>
</g>
<g id="p53">
<rect x="458" y="580.2" width="111" height="174.2" fill="#fff" stroke="#cacaca" stroke-width="1"/>
<path d="M465.5,618.5 L508.9,631.2 L529.3,624.8 L529.3,710.3 L508.9,720.5 L465.5,704 Z" fill="#d3d3d3" stroke="#929292" stroke-width="0.6" stroke-linejoin="round" stroke-linecap="round" />
<polygon points="508.9,631.2 529.3,624.8 529.3,710.3 508.9,720.5" fill="#d8d8d8" stroke="#929292" stroke-width="0.5" stroke-linejoin="round" />
<polygon points="465.5,618.5 508.9,631.2 508.9,646.4 465.5,633.6" fill="#aeaeae" />
<polygon points="508.9,631.2 529.3,624.8 529.3,640.0 508.9,646.4" fill="#b6b6b6" />
<line x1="486.0" y1="626.0" x2="486.0" y2="711.6" stroke="#9d9d9d" stroke-width="0.5" />
<line x1="505.5" y1="632.0" x2="505.5" y2="718.6" stroke="#a8a8a8" stroke-width="0.5" />
<line x1="465.5" y1="704.0" x2="486.5" y2="695.5" stroke="#a8a8a8" stroke-width="0.5" />
<line x1="486.5" y1="695.5" x2="529.0" y2="709.0" stroke="#b1b1b1" stroke-width="0.5" />
<line x1="465.5" y1="698.0" x2="508.9" y2="714.4" stroke="#a8a8a8" stroke-width="0.5" />
<line x1="508.9" y1="714.4" x2="529.3" y2="704.6" stroke="#a8a8a8" stroke-width="0.5" />
<line x1="504.0" y1="652.0" x2="505.5" y2="652.4" stroke="#929292" stroke-width="0.5" />
<line x1="504.0" y1="662.0" x2="505.5" y2="662.4" stroke="#929292" stroke-width="0.5" />
<line x1="504.0" y1="672.0" x2="505.5" y2="672.4" stroke="#929292" stroke-width="0.5" />
<line x1="504.0" y1="682.0" x2="505.5" y2="682.4" stroke="#929292" stroke-width="0.5" />
<line x1="504.0" y1="692.0" x2="505.5" y2="692.4" stroke="#929292" stroke-width="0.5" />
<polygon points="490.5,630.0 502.5,633.2 502.5,643.4 490.5,640.0" fill="#2f2f2f" />
<line x1="493.2" y1="631.0" x2="493.2" y2="641.5" stroke="#808080" stroke-width="0.5" />
<line x1="496.2" y1="631.0" x2="496.2" y2="641.5" stroke="#808080" stroke-width="0.5" />
<line x1="499.2" y1="631.0" x2="499.2" y2="641.5" stroke="#808080" stroke-width="0.5" />
<path d="M464.2,613.4 L482,605.7 L529.3,619.7 L529.3,625 L508.9,631.6 L464.2,618.6 Z" fill="#6e6e6e" stroke="#2f2f2f" stroke-width="0.5" stroke-linejoin="round" stroke-linecap="round" />
<polygon points="464.2,613.4 508.9,626.2 508.9,631.6 464.2,618.6" fill="#626262" />
<polygon points="500.0,617.6 512.0,613.6 522.0,616.6 510.0,621.0" fill="#5e5e5e" stroke="#2f2f2f" stroke-width="0.4" stroke-linejoin="round" />
<ellipse cx="493" cy="607.6" rx="11.6" ry="7.4" fill="#6a6a6a" stroke="#2b2b2b" stroke-width="0.5"/>
<ellipse cx="496.5" cy="605.8" rx="7.6" ry="5" fill="#5c5c5c" stroke="#2b2b2b" stroke-width="0.4"/>
<path d="M485.5,609 l3,1.6 M486.6,606.6 l2.6,1.2" fill="none" stroke="#e8e8e8" stroke-width="0.9" stroke-linejoin="round" stroke-linecap="round" />
<path d="M493,603 L500.5,608.6" fill="none" stroke="#6f6f6f" stroke-width="1.6" stroke-linejoin="round" stroke-linecap="round" />
<polygon points="529.3,627.0 531.6,625.6 538.6,637.2 536.0,641.8 533.0,641.2 527.6,632.0" fill="#cccccc" stroke="#767676" stroke-width="0.6" stroke-linejoin="round" />
<circle cx="528.8" cy="620.4" r="1.6" fill="#6c6c6c" stroke="#2f2f2f" stroke-width="0.4"/>
<polygon points="553.6,640.0 557.2,640.0 557.2,701.0 553.6,701.0" fill="#e6e6e8" stroke="#868686" stroke-width="0.6" stroke-linejoin="round" />
<polygon points="554.2,632.0 556.6,632.0 556.6,640.0 554.2,640.0" fill="#f0f0f0" stroke="#868686" stroke-width="0.5" stroke-linejoin="round" />
<ellipse cx="555.4" cy="631.6" rx="1.5" ry="1" fill="#e0e0e0" stroke="#868686" stroke-width="0.5"/>
<line x1="553.6" y1="645.6" x2="557.2" y2="645.6" stroke="#868686" stroke-width="0.5" />
</g>
<g id="p20">
<path d="M221,470 L228,465 Q234,455.6 242,453.6 L248,455 L260,457.4 Q268,449 276,443 Q280,439 284.5,439.6 L339,457.4 L346.7,460 L289.3,477.8 L283,523.7 L276.5,528.8 L225.5,507.4 Z" fill="#808080" stroke="#3e3e3e" stroke-width="0.6" stroke-linejoin="round" stroke-linecap="round" />
<path d="M260,457.4 Q268,449 276,443 Q280,439 284.5,439.6 L339,457.4 L289.3,475 Z" fill="#787878" stroke="#3e3e3e" stroke-width="0.4" stroke-linejoin="round" stroke-linecap="round" />
<path d="M242,453.6 L248,455 L289,476" fill="none" stroke="#656565" stroke-width="0.6" stroke-linejoin="round" stroke-linecap="round" />
<path d="M221,470 L228,465 Q234,455.6 242,453.6 L289.3,477.8 L283,523.7 L276.5,528.8 L225.5,507.4 Z" fill="#828282" stroke="#3e3e3e" stroke-width="0.5" stroke-linejoin="round" stroke-linecap="round" />
<path d="M225.5,503 L276.5,524.4 L283,519.4 L283,523.7 L276.5,528.8 L225.5,507.4 Z" fill="#848484" stroke="#3e3e3e" stroke-width="0.4" stroke-linejoin="round" stroke-linecap="round" />
<path d="M214,498 L216.6,495.6 L269,516.6 L275,511.6 L279,515.4 L270,523.6 L215.4,501.6 Z" fill="#8c8c8c" stroke="#3e3e3e" stroke-width="0.5" stroke-linejoin="round" stroke-linecap="round" />
<polygon points="289.3,477.8 346.7,460.0 341.6,502.0 283.0,523.7" fill="#a4a4a4" stroke="#3e3e3e" stroke-width="0.5" stroke-linejoin="round" />
<path d="M291.6,479 L345,462.4 L340.2,500.8 L285.6,521 Z" fill="#c0c0c0" stroke="#8a8a8a" stroke-width="0.4" stroke-linejoin="round" stroke-linecap="round" />
<polygon points="296.0,521.5 310.0,516.4 310.0,520.0 300.0,523.0" fill="#808080" />
</g>
<g id="p10">
<path d="M186.6,515.6 L194.5,508 L201,509.6 L209.6,513.6 L211.2,532 L208.6,536.8 L208.6,540.4 L203.2,540.4 L203.2,537 L190.4,529.4 L187,524 Z" fill="#6e6e6e" stroke="#2f2f2f" stroke-width="0.5" stroke-linejoin="round" stroke-linecap="round" />
<polygon points="194.5,508.0 209.6,513.6 203.5,517.6 188.6,513.6" fill="#7a7a7a" stroke="#2f2f2f" stroke-width="0.4" stroke-linejoin="round" />
<line x1="191.2" y1="517.2" x2="191.2" y2="526.2" stroke="#505050" stroke-width="1.3" />
<line x1="193.9" y1="518.1" x2="193.9" y2="527.1" stroke="#505050" stroke-width="1.3" />
<line x1="196.6" y1="519.0" x2="196.6" y2="528.0" stroke="#505050" stroke-width="1.3" />
<line x1="199.3" y1="519.9" x2="199.3" y2="528.9" stroke="#505050" stroke-width="1.3" />
<polygon points="203.4,538.8 208.4,538.8 208.4,541.2 203.4,541.2" fill="#d8d8d8" stroke="#787878" stroke-width="0.4" stroke-linejoin="round" />
</g>
<g id="p15">
<path d="M142.3,501.6 L161.4,508 Q160,525 158,542 Q155,575 144.8,603.7 L129.5,598.6 Q138.6,580 139.7,562.9 Q143,536 142.3,501.6 Z" fill="#bbbbbb" stroke="#707070" stroke-width="0.6" stroke-linejoin="round" stroke-linecap="round" />
<path d="M161.4,508 L179,498.6 L179.6,496.6 L181.8,497.8 Q184,514 183,532 Q182,552 178,568 Q173.6,585 166.5,596 L144.8,603.7 Q155,575 158,542 Q160,525 161.4,508 Z" fill="#bebebe" stroke="#707070" stroke-width="0.6" stroke-linejoin="round" stroke-linecap="round" />
<ellipse cx="171.8" cy="511.6" rx="2.6" ry="3.6" fill="#b2b2b2" stroke="#6a6a6a" stroke-width="0.6"/>
</g>
<g id="p9">
<path d="M6,412.4 L116.8,452.2 Q121,470 122.3,490.7 Q123,520 121,543 Q118.6,570 114,589.7 L110,598 L108.8,620 L85.2,611.7 L81,604.8 L48,595 L44,589.7 L6,581.4 Z" fill="#bcbcbc" stroke="#707070" stroke-width="0.6" stroke-linejoin="round" stroke-linecap="round" />
<path d="M6,559.5 L110,596.6 L108.8,620 L85.2,611.7 L81,604.8 L48,595 L44,589.7 L6,581.4 Z" fill="#b3b3b3" />
<line x1="6.0" y1="559.5" x2="110.0" y2="596.6" stroke="#8e8e8e" stroke-width="0.6" />
<path d="M114.6,451.4 L116.8,452.2 Q121,470 122.3,490.7 Q123,520 121,543 Q118.6,570 114,589.7 L110,598 L108,597.3 Q116,570 118.6,543 Q120.6,518 120,491 Q119,470 114.6,451.4 Z" fill="#9e9e9e" stroke="#707070" stroke-width="0.4" stroke-linejoin="round" stroke-linecap="round" />
<polygon points="17.0,421.6 18.7,422.2 18.7,442.4 17.0,441.8" fill="#808080" />
<polygon points="21.1,423.0 22.8,423.6 22.8,443.8 21.1,443.2" fill="#808080" />
<polygon points="25.3,424.5 27.0,425.1 27.0,445.3 25.3,444.7" fill="#808080" />
<polygon points="29.4,425.9 31.1,426.5 31.1,446.7 29.4,446.1" fill="#808080" />
<polygon points="33.5,427.3 35.2,427.9 35.2,448.1 33.5,447.5" fill="#808080" />
<polygon points="37.6,428.8 39.3,429.4 39.3,449.6 37.6,449.0" fill="#808080" />
<polygon points="41.8,430.2 43.5,430.8 43.5,451.0 41.8,450.4" fill="#808080" />
<polygon points="45.9,431.6 47.6,432.2 47.6,452.4 45.9,451.8" fill="#808080" />
<polygon points="50.0,433.1 51.7,433.7 51.7,453.9 50.0,453.3" fill="#808080" />
<polygon points="54.2,434.5 55.9,435.1 55.9,455.3 54.2,454.7" fill="#808080" />
<polygon points="58.3,435.9 60.0,436.5 60.0,456.7 58.3,456.1" fill="#808080" />
<polygon points="62.4,437.4 64.1,438.0 64.1,458.2 62.4,457.6" fill="#808080" />
<polygon points="66.5,438.8 68.2,439.4 68.2,459.6 66.5,459.0" fill="#808080" />
<polygon points="70.7,440.2 72.4,440.8 72.4,461.0 70.7,460.4" fill="#808080" />
<polygon points="74.8,441.7 76.5,442.3 76.5,462.5 74.8,461.9" fill="#808080" />
<polygon points="78.9,443.1 80.6,443.7 80.6,463.9 78.9,463.3" fill="#808080" />
<polygon points="83.1,444.5 84.8,445.1 84.8,465.3 83.1,464.7" fill="#808080" />
<polygon points="87.2,446.0 88.9,446.6 88.9,466.8 87.2,466.2" fill="#808080" />
<polygon points="91.3,447.4 93.0,448.0 93.0,468.2 91.3,467.6" fill="#808080" />
<polygon points="95.4,448.8 97.1,449.4 97.1,469.6 95.4,469.0" fill="#808080" />
<polygon points="99.6,450.3 101.3,450.9 101.3,471.1 99.6,470.5" fill="#808080" />
<polygon points="103.7,451.7 105.4,452.3 105.4,472.5 103.7,471.9" fill="#808080" />
<polygon points="120.2,459.0 122.6,459.6 122.6,462.2 120.2,461.6" fill="#929292" stroke="#707070" stroke-width="0.3" stroke-linejoin="round" />
<polygon points="120.2,487.0 122.6,487.6 122.6,490.2 120.2,489.6" fill="#929292" stroke="#707070" stroke-width="0.3" stroke-linejoin="round" />
<polygon points="120.2,503.0 122.6,503.6 122.6,506.2 120.2,505.6" fill="#929292" stroke="#707070" stroke-width="0.3" stroke-linejoin="round" />
<polygon points="120.2,541.0 122.6,541.6 122.6,544.2 120.2,543.6" fill="#929292" stroke="#707070" stroke-width="0.3" stroke-linejoin="round" />
<polygon points="120.2,575.0 122.6,575.6 122.6,578.2 120.2,577.6" fill="#929292" stroke="#707070" stroke-width="0.3" stroke-linejoin="round" />
<polygon points="30.4,421.2 31.0,419.4 33.6,420.4 33.4,422.2" fill="#a8a8a8" stroke="#707070" stroke-width="0.3" stroke-linejoin="round" />
<polygon points="66.9,434.3 67.5,432.5 70.1,433.5 69.9,435.3" fill="#a8a8a8" stroke="#707070" stroke-width="0.3" stroke-linejoin="round" />
<polygon points="105.7,448.2 106.3,446.4 108.9,447.4 108.7,449.2" fill="#a8a8a8" stroke="#707070" stroke-width="0.3" stroke-linejoin="round" />
</g>
<g id="p16">
<ellipse cx="82" cy="713.0" rx="42.5" ry="15" fill="none" stroke="#6c6c6c" stroke-width="3"/>
<ellipse cx="82" cy="714.6" rx="40" ry="13.4" fill="none" stroke="#6c6c6c" stroke-width="3"/>
<ellipse cx="82" cy="716.0" rx="37.5" ry="11.8" fill="none" stroke="#6c6c6c" stroke-width="3"/>
<ellipse cx="82" cy="712.6" rx="42.5" ry="15" fill="none" stroke="#868686" stroke-width="0.7"/>
<ellipse cx="82" cy="714.2" rx="40" ry="13.4" fill="none" stroke="#868686" stroke-width="0.7"/>
<ellipse cx="82" cy="715.6" rx="37.5" ry="11.8" fill="none" stroke="#868686" stroke-width="0.7"/>
<path d="M31,662 Q40,666 45,678 Q50,692 58,697 Q64,701 70,702.4" fill="none" stroke="#6c6c6c" stroke-width="2.8" stroke-linejoin="round" stroke-linecap="round" />
<path d="M48,704 Q56,694 76,689 Q96,682 110.4,669" fill="none" stroke="#6c6c6c" stroke-width="2.8" stroke-linejoin="round" stroke-linecap="round" />
<path d="M11.5,657 L15,653 L24.5,651.6 L29.5,655 L33,662 L27,664.4 L21.5,660.6 L14,662 Z" fill="#5e5e5e" stroke="#2f2f2f" stroke-width="0.5" stroke-linejoin="round" stroke-linecap="round" />
<path d="M107,669.4 L117.5,655 Q120,652 124.4,653 L132,656.4 Q135.6,660 134.6,666 L130,670.4 L122.4,671.4 L116,670 L110.4,673 Z" fill="#6e6e6e" stroke="#2f2f2f" stroke-width="0.5" stroke-linejoin="round" stroke-linecap="round" />
<polygon points="106.4,668.4 109.2,666.4 112.6,671.4 109.8,673.4" fill="#2f2f2f" />
<polygon points="134.6,664.6 138.6,665.8 138.2,667.8 134.2,666.8" fill="#d0d0d0" stroke="#808080" stroke-width="0.4" stroke-linejoin="round" />
</g>
<g id="p19">
<path d="M174.4,603.4 L175.6,611.2 L242,636.2 Q245.6,637.2 246.6,634 L247.2,628.6 Z" fill="#dedede" stroke="#8e8e8e" stroke-width="0.6" stroke-linejoin="round" stroke-linecap="round" />
<path d="M246,629 L351.4,588.5 L350.4,594.4 Q349.6,596.6 347,595 L344.6,594.6 L246.8,633.6 Z" fill="#d6d6d6" stroke="#8e8e8e" stroke-width="0.6" stroke-linejoin="round" stroke-linecap="round" />
<path d="M174.4,603.4 L190.6,600.6 Q192.6,602.6 195.4,601.4 Q197.6,599.6 195.6,597.4 L278,564.4 Q280,563.4 282.4,564.2 L351.4,588.5 L246.4,629.2 Z" fill="#e6e6e6" stroke="#8e8e8e" stroke-width="0.6" stroke-linejoin="round" stroke-linecap="round" />
<line x1="300.5" y1="577.2" x2="341.1" y2="588.0" stroke="#6c6c6c" stroke-width="1.5" />
<line x1="294.6" y1="579.7" x2="335.2" y2="590.5" stroke="#6c6c6c" stroke-width="1.5" />
<line x1="288.7" y1="582.1" x2="329.3" y2="592.9" stroke="#6c6c6c" stroke-width="1.5" />
<line x1="282.8" y1="584.6" x2="323.4" y2="595.4" stroke="#6c6c6c" stroke-width="1.5" />
<line x1="276.9" y1="587.0" x2="317.5" y2="597.8" stroke="#6c6c6c" stroke-width="1.5" />
<line x1="279.0" y1="596.8" x2="311.0" y2="605.4" stroke="#6c6c6c" stroke-width="1.5" />
<line x1="274.1" y1="599.7" x2="306.1" y2="608.3" stroke="#6c6c6c" stroke-width="1.5" />
<line x1="269.2" y1="602.6" x2="301.2" y2="611.2" stroke="#6c6c6c" stroke-width="1.5" />
<line x1="264.3" y1="605.5" x2="296.3" y2="614.1" stroke="#6c6c6c" stroke-width="1.5" />
<line x1="283.0" y1="593.4" x2="301.0" y2="598.2" stroke="#6c6c6c" stroke-width="1.5" />
<line x1="235.9" y1="600.6" x2="259.8" y2="607.1" stroke="#6c6c6c" stroke-width="1.5" />
<line x1="240.7" y1="598.7" x2="254.2" y2="602.3" stroke="#6c6c6c" stroke-width="1.5" />
<line x1="242.0" y1="604.8" x2="262.0" y2="610.2" stroke="#6c6c6c" stroke-width="1.5" />
<line x1="216.7" y1="605.9" x2="233.5" y2="610.2" stroke="#6c6c6c" stroke-width="1.5" />
<line x1="212.0" y1="608.3" x2="231.0" y2="613.2" stroke="#6c6c6c" stroke-width="1.5" />
<line x1="214.4" y1="612.0" x2="228.7" y2="615.6" stroke="#6c6c6c" stroke-width="1.5" />
<line x1="223.9" y1="615.6" x2="252.6" y2="623.0" stroke="#6c6c6c" stroke-width="1.5" />
<line x1="241.9" y1="612.8" x2="256.0" y2="616.4" stroke="#6c6c6c" stroke-width="1.5" />
<line x1="246.0" y1="610.2" x2="258.0" y2="613.4" stroke="#6c6c6c" stroke-width="1.5" />
<line x1="257.6" y1="594.0" x2="262.0" y2="595.2" stroke="#6c6c6c" stroke-width="1.5" />
<ellipse cx="273" cy="594.8" rx="4.8" ry="2.3" transform="rotate(8 273 594.8)" fill="#f4f4f4" stroke="#7b7b7b" stroke-width="0.6"/>
<ellipse cx="262.7" cy="600" rx="4.8" ry="2.3" transform="rotate(8 262.7 600)" fill="#f4f4f4" stroke="#7b7b7b" stroke-width="0.6"/>
<ellipse cx="235.9" cy="613.6" rx="4.8" ry="2.3" transform="rotate(8 235.9 613.6)" fill="#f4f4f4" stroke="#7b7b7b" stroke-width="0.6"/>
</g>
<polygon points="252.2,631.0 258.0,628.6 266.3,631.4 266.3,636.4 260.0,638.6 252.2,636.0" fill="#535353" stroke="#2f2f2f" stroke-width="0.5" stroke-linejoin="round" />
<polygon points="252.2,631.0 258.0,628.6 266.3,631.4 260.0,633.8" fill="#808080" stroke="#2f2f2f" stroke-width="0.4" stroke-linejoin="round" />
<polygon points="257.0,628.0 260.0,627.0 262.6,628.0 259.8,629.4" fill="#929292" stroke="#3f3f3f" stroke-width="0.3" stroke-linejoin="round" />
<g id="p18">
<path d="M181.3,665.5 L187,661.4 L201,660 L281.6,628.8 L350.5,652.9 L341,670 L310.3,672 L308.4,681.6 L274,693 L272,700.8 L249,704.6 L199.3,687.4 L197.4,675.9 L182.1,670 Z" fill="#787878" stroke="#3e3e3e" stroke-width="0.6" stroke-linejoin="round" stroke-linecap="round" />
<path d="M181.3,665.5 L187,661.4 L201,660 L281.6,628.8 L350.5,652.9 L346,656 L312,668 L276,680.6 L249,690.4 L196,673 L183,668.6 Z" fill="#868686" stroke="#3e3e3e" stroke-width="0.5" stroke-linejoin="round" stroke-linecap="round" />
<path d="M203,664.6 L281,634.8 L339.6,654.2 L308,665 L274,676.6 L248.6,685.4 Z" fill="#767676" stroke="#3e3e3e" stroke-width="0.4" stroke-linejoin="round" stroke-linecap="round" />
<path d="M203,664.6 L281,634.8 L339.6,654.2 L334,656 L281,639.4 L210,667 Z" fill="#808080" stroke="#4c4c4c" stroke-width="0.3" stroke-linejoin="round" stroke-linecap="round" />
<path d="M233,666 L262.6,676 M252,658.6 L296,672.6 M272,650 L310.6,662.6 M262.6,676 L296,663" fill="none" stroke="#868686" stroke-width="1.8" stroke-linejoin="round" stroke-linecap="round" />
<polygon points="231.5,681.6 248.0,676.5 260.8,682.9 244.2,688.0" fill="#fff" stroke="#3b3b3b" stroke-width="0.6" stroke-linejoin="round" />
<polygon points="294.0,658.6 310.6,653.5 322.0,658.6 308.0,665.0" fill="#fff" stroke="#3b3b3b" stroke-width="0.6" stroke-linejoin="round" />
<ellipse cx="195.6" cy="664.4" rx="5" ry="2.4" fill="#7c7c7c" stroke="#2f2f2f" stroke-width="0.6"/>
<path d="M254,668.6 L266,664 L270,665.4" fill="none" stroke="#dcdcdc" stroke-width="1.0" stroke-linejoin="round" stroke-linecap="round" />
<line x1="258.0" y1="662.6" x2="258.6" y2="668.6" stroke="#2f2f2f" stroke-width="0.8" />
<path d="M197.4,675.9 L197.6,671.4 M249,704.6 L249,690.4 M274,693 L274.6,681 M310.3,672 L311,668.4" fill="none" stroke="#484848" stroke-width="0.5" stroke-linejoin="round" stroke-linecap="round" />
</g>
<g id="p17">
<path d="M161,709.6 Q160,706.6 163,705.6 L191.7,697.7 L196,697 L203,699.6 L211,697.2 L216,700.2 L249,713.6 L252,716.6 L214,731.6 L164.6,713.6 Z" fill="#7d7d7d" stroke="#3e3e3e" stroke-width="0.5" stroke-linejoin="round" stroke-linecap="round" />
<path d="M166,708.6 L193,701.4 L240,717 L213,727.4 Z" fill="#777777" stroke="#3e3e3e" stroke-width="0.4" stroke-linejoin="round" stroke-linecap="round" />
<path d="M193,701.4 L183,714.6 M211,700 L204,705" fill="none" stroke="#4c4c4c" stroke-width="0.6" stroke-linejoin="round" stroke-linecap="round" />
<path d="M176.4,744.8 L213.8,731.8 L255.3,712.6 L258.7,709.3 L265,710.4 L275.9,706.2 L350.5,733.3 L348.6,744.8 L320,750.5 L318,760 L283.5,769.7 L279.7,777.3 L248,780 L243.3,786.9 L176.4,763.9 Z" fill="#7c7c7c" stroke="#3e3e3e" stroke-width="0.6" stroke-linejoin="round" stroke-linecap="round" />
<path d="M176.4,744.8 L213.8,731.8 L255.3,712.6 L258.7,709.3 L265,710.4 L275.9,706.2 L350.5,733.3 L343.6,736.4 L280,757 L237,770.6 Z" fill="#8a8a8a" stroke="#3e3e3e" stroke-width="0.5" stroke-linejoin="round" stroke-linecap="round" />
<path d="M184,745.6 L216,734.4 L257,716.2 L266,713.8 L277,710.2 L341,733.2 L279,753 L238,766.4 Z" fill="#808080" stroke="#3e3e3e" stroke-width="0.4" stroke-linejoin="round" stroke-linecap="round" />
<path d="M216,734.4 L257,716.2 L266,713.8 L277,710.2 L341,733.2 L333,735.8 L279,717.6 L267,722 L263,745.6 L217,758 Z" fill="#787878" stroke="#4c4c4c" stroke-width="0.4" stroke-linejoin="round" stroke-linecap="round" />
<path d="M184,745.6 L216,734.4 L217,758 L238,766.4 Z" fill="#848484" stroke="#4c4c4c" stroke-width="0.3" stroke-linejoin="round" stroke-linecap="round" />
<path d="M176.4,757.5 L243.3,780.5 L243.3,786.9 L176.4,763.9 Z" fill="#848484" stroke="#3e3e3e" stroke-width="0.4" stroke-linejoin="round" stroke-linecap="round" />
<path d="M296,752 L328,741" fill="none" stroke="#656565" stroke-width="1.4" stroke-linejoin="round" stroke-linecap="round" />
<path d="M237,770.6 L237.6,776.4" fill="none" stroke="#484848" stroke-width="0.5" stroke-linejoin="round" stroke-linecap="round" />
</g>
</g>
<line x1="69.0" y1="31.0" x2="82.0" y2="39.5" stroke="#8e8e8e" stroke-width="0.9" />
<line x1="223.0" y1="20.4" x2="232.0" y2="28.5" stroke="#8e8e8e" stroke-width="0.9" />
<line x1="320.0" y1="84.5" x2="302.0" y2="91.5" stroke="#8e8e8e" stroke-width="0.9" />
<line x1="21.7" y1="133.0" x2="20.4" y2="186.5" stroke="#8e8e8e" stroke-width="0.9" />
<line x1="21.7" y1="133.0" x2="58.7" y2="145.7" stroke="#8e8e8e" stroke-width="0.9" />
<line x1="74.0" y1="133.0" x2="89.3" y2="145.7" stroke="#8e8e8e" stroke-width="0.9" />
<line x1="36.0" y1="155.0" x2="42.0" y2="158.0" stroke="#8e8e8e" stroke-width="0.9" />
<line x1="65.5" y1="383.0" x2="84.6" y2="406.0" stroke="#8e8e8e" stroke-width="0.9" />
<line x1="61.5" y1="413.7" x2="72.9" y2="435.7" stroke="#8e8e8e" stroke-width="0.9" />
<line x1="265.3" y1="325.3" x2="285.7" y2="340.0" stroke="#8e8e8e" stroke-width="0.9" />
<line x1="244.3" y1="355.4" x2="221.9" y2="366.9" stroke="#8e8e8e" stroke-width="0.9" />
<line x1="400.5" y1="170.3" x2="396.0" y2="195.8" stroke="#8e8e8e" stroke-width="0.9" />
<line x1="378.3" y1="228.7" x2="384.6" y2="204.0" stroke="#8e8e8e" stroke-width="0.9" />
<line x1="406.8" y1="274.6" x2="414.0" y2="260.0" stroke="#8e8e8e" stroke-width="0.9" />
<line x1="474.4" y1="105.2" x2="461.7" y2="116.0" stroke="#8e8e8e" stroke-width="0.9" />
<line x1="527.5" y1="105.7" x2="502.5" y2="117.2" stroke="#8e8e8e" stroke-width="0.9" />
<line x1="513.0" y1="313.8" x2="520.6" y2="300.3" stroke="#8e8e8e" stroke-width="0.9" />
<line x1="434.4" y1="325.5" x2="461.2" y2="346.0" stroke="#8e8e8e" stroke-width="0.9" />
<line x1="606.0" y1="389.0" x2="599.7" y2="416.5" stroke="#8e8e8e" stroke-width="0.9" />
<line x1="187.0" y1="451.9" x2="221.0" y2="476.5" stroke="#8e8e8e" stroke-width="0.9" />
<line x1="183.0" y1="480.5" x2="196.0" y2="508.0" stroke="#8e8e8e" stroke-width="0.9" />
<line x1="155.0" y1="491.4" x2="164.0" y2="504.2" stroke="#8e8e8e" stroke-width="0.9" />
<line x1="398.5" y1="431.0" x2="399.6" y2="449.5" stroke="#8e8e8e" stroke-width="0.9" />
<line x1="415.5" y1="438.3" x2="416.6" y2="456.0" stroke="#8e8e8e" stroke-width="0.9" />
<line x1="431.5" y1="444.6" x2="431.0" y2="463.0" stroke="#8e8e8e" stroke-width="0.9" />
<line x1="446.0" y1="449.0" x2="447.0" y2="469.0" stroke="#8e8e8e" stroke-width="0.9" />
<line x1="358.6" y1="520.4" x2="381.0" y2="525.8" stroke="#8e8e8e" stroke-width="0.9" />
<line x1="479.2" y1="560.2" x2="493.0" y2="580.0" stroke="#8e8e8e" stroke-width="0.9" />
<line x1="543.3" y1="711.0" x2="553.5" y2="695.0" stroke="#8e8e8e" stroke-width="0.9" />
<line x1="165.5" y1="627.6" x2="194.8" y2="621.2" stroke="#8e8e8e" stroke-width="0.9" />
<line x1="302.0" y1="621.0" x2="267.0" y2="630.6" stroke="#8e8e8e" stroke-width="0.9" />
<line x1="168.0" y1="663.3" x2="182.0" y2="669.7" stroke="#8e8e8e" stroke-width="0.9" />
<line x1="168.8" y1="699.8" x2="184.6" y2="706.7" stroke="#8e8e8e" stroke-width="0.9" />
<line x1="75.3" y1="670.3" x2="85.5" y2="683.8" stroke="#8e8e8e" stroke-width="0.9" />
<path d="M50.70,16.80H55.90M58.25,16.80H63.05M65.40,16.80H70.60M50.70,30.80H55.90M58.25,30.80H63.05M65.40,30.80H70.60M51.50,16.80V21.20M51.50,26.40V30.80M69.80,16.80V21.20M69.80,26.40V30.80" fill="none" stroke="#17178f" stroke-width="1.6"/>
<text transform="translate(59.6 28.9) scale(0.87 1)" text-anchor="middle" class="n">1</text>
<path d="M203.40,6.20H208.60M211.40,6.20H216.20M219.00,6.20H224.20M203.40,20.00H208.60M211.40,20.00H216.20M219.00,20.00H224.20M204.20,6.20V10.60M204.20,15.60V20.00M223.40,6.20V10.60M223.40,15.60V20.00" fill="none" stroke="#17178f" stroke-width="1.6"/>
<text transform="translate(212.8 18.2) scale(0.87 1)" text-anchor="middle" class="n">2</text>
<path d="M319.80,75.00H325.00M327.50,75.00H332.30M334.80,75.00H340.00M319.80,88.80H325.00M327.50,88.80H332.30M334.80,88.80H340.00M320.60,75.00V79.40M320.60,84.40V88.80M339.20,75.00V79.40M339.20,84.40V88.80" fill="none" stroke="#17178f" stroke-width="1.6"/>
<text transform="translate(328.9 87.0) scale(0.87 1)" text-anchor="middle" class="n">3</text>
<path d="M12.00,119.60H17.20M19.30,119.60H24.10M26.20,119.60H31.40M12.00,132.60H17.20M19.30,132.60H24.10M26.20,132.60H31.40M12.80,119.60V124.00M12.80,128.20V132.60M30.60,119.60V124.00M30.60,128.20V132.60" fill="none" stroke="#17178f" stroke-width="1.6"/>
<text transform="translate(20.7 131.2) scale(0.87 1)" text-anchor="middle" class="n">7</text>
<path d="M58.00,119.60H63.20M65.40,119.60H70.20M72.40,119.60H77.60M58.00,132.60H63.20M65.40,132.60H70.20M72.40,132.60H77.60M58.80,119.60V124.00M58.80,128.20V132.60M76.80,119.60V124.00M76.80,128.20V132.60" fill="none" stroke="#17178f" stroke-width="1.6"/>
<text transform="translate(66.8 131.2) scale(0.87 1)" text-anchor="middle" class="n">4</text>
<path d="M26.10,141.60H31.30M33.45,141.60H38.25M40.40,141.60H45.60M26.10,154.40H31.30M33.45,154.40H38.25M40.40,154.40H45.60M26.90,141.60V146.00M26.90,150.00V154.40M44.80,141.60V146.00M44.80,150.00V154.40" fill="none" stroke="#17178f" stroke-width="1.6"/>
<text transform="translate(34.9 153.1) scale(0.87 1)" text-anchor="middle" class="n">6</text>
<path d="M474.20,90.80H479.40M481.70,90.80H486.50M488.80,90.80H494.00M474.20,104.60H479.40M481.70,104.60H486.50M488.80,104.60H494.00M475.00,90.80V95.20M475.00,100.20V104.60M493.20,90.80V95.20M493.20,100.20V104.60" fill="none" stroke="#17178f" stroke-width="1.6"/>
<text transform="translate(483.1 102.8) scale(0.87 1)" text-anchor="middle" class="n">30</text>
<path d="M527.30,93.00H532.50M534.75,93.00H539.55M541.80,93.00H547.00M527.30,107.00H532.50M534.75,107.00H539.55M541.80,107.00H547.00M528.10,93.00V97.40M528.10,102.60V107.00M546.20,93.00V97.40M546.20,102.60V107.00" fill="none" stroke="#17178f" stroke-width="1.6"/>
<text transform="translate(536.1 105.1) scale(0.87 1)" text-anchor="middle" class="n">31</text>
<path d="M390.00,155.70H395.20M399.25,155.70H404.05M408.10,155.70H413.30M390.00,170.00H395.20M399.25,170.00H404.05M408.10,170.00H413.30M390.80,155.70V160.10M390.80,165.60V170.00M412.50,155.70V160.10M412.50,165.60V170.00" fill="none" stroke="#17178f" stroke-width="1.6"/>
<text transform="translate(400.6 168.0) scale(0.87 1)" text-anchor="middle" class="n">25</text>
<path d="M366.60,229.20H371.80M374.70,229.20H379.50M382.40,229.20H387.60M366.60,242.60H371.80M374.70,242.60H379.50M382.40,242.60H387.60M367.40,229.20V233.60M367.40,238.20V242.60M386.80,229.20V233.60M386.80,238.20V242.60" fill="none" stroke="#17178f" stroke-width="1.6"/>
<text transform="translate(376.1 241.0) scale(0.87 1)" text-anchor="middle" class="n">24</text>
<path d="M393.80,275.20H399.00M401.90,275.20H406.70M409.60,275.20H414.80M393.80,290.00H399.00M401.90,290.00H406.70M409.60,290.00H414.80M394.60,275.20V279.60M394.60,285.60V290.00M414.00,275.20V279.60M414.00,285.60V290.00" fill="none" stroke="#17178f" stroke-width="1.6"/>
<text transform="translate(403.3 287.7) scale(0.87 1)" text-anchor="middle" class="n">32</text>
<path d="M499.40,314.40H504.60M507.90,314.40H512.70M516.00,314.40H521.20M499.40,328.40H504.60M507.90,328.40H512.70M516.00,328.40H521.20M500.20,314.40V318.80M500.20,324.00V328.40M520.40,314.40V318.80M520.40,324.00V328.40" fill="none" stroke="#17178f" stroke-width="1.6"/>
<text transform="translate(509.3 326.5) scale(0.87 1)" text-anchor="middle" class="n">33</text>
<path d="M413.80,312.00H419.00M421.90,312.00H426.70M429.60,312.00H434.80M413.80,325.20H419.00M421.90,325.20H426.70M429.60,325.20H434.80M414.60,312.00V316.40M414.60,320.80V325.20M434.00,312.00V316.40M434.00,320.80V325.20" fill="none" stroke="#17178f" stroke-width="1.6"/>
<text transform="translate(423.3 323.7) scale(0.87 1)" text-anchor="middle" class="n">34</text>
<path d="M598.20,375.00H603.40M605.40,375.00H610.20M612.20,375.00H617.40M598.20,388.40H603.40M605.40,388.40H610.20M612.20,388.40H617.40M599.00,375.00V379.40M599.00,384.00V388.40M616.60,375.00V379.40M616.60,384.00V388.40" fill="none" stroke="#17178f" stroke-width="1.6"/>
<text transform="translate(606.8 386.8) scale(0.87 1)" text-anchor="middle" class="n">36</text>
<path d="M244.20,313.00H249.40M252.50,313.00H257.30M260.40,313.00H265.60M244.20,324.80H249.40M252.50,324.80H257.30M260.40,324.80H265.60M245.00,313.00V317.40M245.00,320.40V324.80M264.80,313.00V317.40M264.80,320.40V324.80" fill="none" stroke="#17178f" stroke-width="1.6"/>
<text transform="translate(253.9 324.0) scale(0.87 1)" text-anchor="middle" class="n">22</text>
<path d="M244.20,342.40H249.40M251.90,342.40H256.70M259.20,342.40H264.40M244.20,354.80H249.40M251.90,354.80H256.70M259.20,354.80H264.40M245.00,342.40V346.80M245.00,350.40V354.80M263.60,342.40V346.80M263.60,350.40V354.80" fill="none" stroke="#17178f" stroke-width="1.6"/>
<text transform="translate(253.3 353.7) scale(0.87 1)" text-anchor="middle" class="n">21</text>
<path d="M49.20,368.60H54.40M55.70,368.60H60.50M61.80,368.60H67.00M49.20,382.00H54.40M55.70,382.00H60.50M61.80,382.00H67.00M50.00,368.60V373.00M50.00,377.60V382.00M66.20,368.60V373.00M66.20,377.60V382.00" fill="none" stroke="#17178f" stroke-width="1.6"/>
<text transform="translate(57.1 380.4) scale(0.87 1)" text-anchor="middle" class="n">8</text>
<path d="M48.80,399.20H54.00M55.50,399.20H60.30M61.80,399.20H67.00M48.80,412.60H54.00M55.50,412.60H60.30M61.80,412.60H67.00M49.60,399.20V403.60M49.60,408.20V412.60M66.20,399.20V403.60M66.20,408.20V412.60" fill="none" stroke="#17178f" stroke-width="1.6"/>
<text transform="translate(56.9 411.0) scale(0.87 1)" text-anchor="middle" class="n">9</text>
<path d="M165.80,438.40H171.00M174.20,438.40H179.00M182.20,438.40H187.40M165.80,451.40H171.00M174.20,451.40H179.00M182.20,451.40H187.40M166.60,438.40V442.80M166.60,447.00V451.40M186.60,438.40V442.80M186.60,447.00V451.40" fill="none" stroke="#17178f" stroke-width="1.6"/>
<text transform="translate(175.6 450.0) scale(0.87 1)" text-anchor="middle" class="n">20</text>
<path d="M168.40,466.00H173.60M175.80,466.00H180.60M182.80,466.00H188.00M168.40,480.00H173.60M175.80,480.00H180.60M182.80,480.00H188.00M169.20,466.00V470.40M169.20,475.60V480.00M187.20,466.00V470.40M187.20,475.60V480.00" fill="none" stroke="#17178f" stroke-width="1.6"/>
<text transform="translate(177.2 478.1) scale(0.87 1)" text-anchor="middle" class="n">10</text>
<path d="M136.40,474.80H141.60M144.50,474.80H149.30M152.20,474.80H157.40M136.40,490.80H141.60M144.50,490.80H149.30M152.20,490.80H157.40M137.20,474.80V479.20M137.20,486.40V490.80M156.60,474.80V479.20M156.60,486.40V490.80" fill="none" stroke="#17178f" stroke-width="1.6"/>
<text transform="translate(145.9 487.9) scale(0.87 1)" text-anchor="middle" class="n">15</text>
<path d="M388.50,416.60H393.70M396.55,416.60H401.35M404.20,416.60H409.40M388.50,430.40H393.70M396.55,430.40H401.35M404.20,430.40H409.40M389.30,416.60V421.00M389.30,426.00V430.40M408.60,416.60V421.00M408.60,426.00V430.40" fill="none" stroke="#17178f" stroke-width="1.6"/>
<text transform="translate(397.9 428.6) scale(0.87 1)" text-anchor="middle" class="n">37</text>
<path d="M407.60,424.30H412.80M414.70,424.30H419.50M421.40,424.30H426.60M407.60,437.70H412.80M414.70,437.70H419.50M421.40,437.70H426.60M408.40,424.30V428.70M408.40,433.30V437.70M425.80,424.30V428.70M425.80,433.30V437.70" fill="none" stroke="#17178f" stroke-width="1.6"/>
<text transform="translate(416.1 436.1) scale(0.87 1)" text-anchor="middle" class="n">38</text>
<path d="M423.40,430.60H428.60M430.50,430.60H435.30M437.20,430.60H442.40M423.40,444.00H428.60M430.50,444.00H435.30M437.20,444.00H442.40M424.20,430.60V435.00M424.20,439.60V444.00M441.60,430.60V435.00M441.60,439.60V444.00" fill="none" stroke="#17178f" stroke-width="1.6"/>
<text transform="translate(431.9 442.4) scale(0.87 1)" text-anchor="middle" class="n">39</text>
<path d="M440.80,434.60H446.00M447.75,434.60H452.55M454.30,434.60H459.50M440.80,448.40H446.00M447.75,448.40H452.55M454.30,448.40H459.50M441.60,434.60V439.00M441.60,444.00V448.40M458.70,434.60V439.00M458.70,444.00V448.40" fill="none" stroke="#17178f" stroke-width="1.6"/>
<text transform="translate(449.1 446.6) scale(0.87 1)" text-anchor="middle" class="n">40</text>
<path d="M438.20,507.60H443.40M445.60,507.60H450.40M452.60,507.60H457.80M438.20,521.40H443.40M445.60,521.40H450.40M452.60,521.40H457.80M439.00,507.60V512.00M439.00,517.00V521.40M457.00,507.60V512.00M457.00,517.00V521.40" fill="none" stroke="#17178f" stroke-width="1.6"/>
<text transform="translate(447.0 519.6) scale(0.87 1)" text-anchor="middle" class="n">45</text>
<path d="M339.50,507.20H344.70M346.80,507.20H351.60M353.70,507.20H358.90M339.50,519.80H344.70M346.80,519.80H351.60M353.70,519.80H358.90M340.30,507.20V511.60M340.30,515.40V519.80M358.10,507.20V511.60M358.10,515.40V519.80" fill="none" stroke="#17178f" stroke-width="1.6"/>
<text transform="translate(348.2 518.6) scale(0.87 1)" text-anchor="middle" class="n">46</text>
<path d="M460.70,544.00H465.90M469.55,544.00H474.35M478.00,544.00H483.20M460.70,559.60H465.90M469.55,559.60H474.35M478.00,559.60H483.20M461.50,544.00V548.40M461.50,555.20V559.60M482.40,544.00V548.40M482.40,555.20V559.60" fill="none" stroke="#17178f" stroke-width="1.6"/>
<text transform="translate(470.9 556.9) scale(0.87 1)" text-anchor="middle" class="n">53</text>
<path d="M534.20,711.60H539.40M540.90,711.60H545.70M547.20,711.60H552.40M534.20,726.30H539.40M540.90,726.30H545.70M547.20,726.30H552.40M535.00,711.60V716.00M535.00,721.90V726.30M551.60,711.60V716.00M551.60,721.90V726.30" fill="none" stroke="#17178f" stroke-width="1.6"/>
<text transform="translate(542.3 724.1) scale(0.87 1)" text-anchor="middle" class="n">55</text>
<path d="M148.20,618.00H153.40M154.60,618.00H159.40M160.60,618.00H165.80M148.20,630.40H153.40M154.60,630.40H159.40M160.60,630.40H165.80M149.00,618.00V622.40M149.00,626.00V630.40M165.00,618.00V622.40M165.00,626.00V630.40" fill="none" stroke="#17178f" stroke-width="1.6"/>
<text transform="translate(156.0 629.3) scale(0.87 1)" text-anchor="middle" class="n">19</text>
<path d="M302.00,608.20H307.20M309.45,608.20H314.25M316.50,608.20H321.70M302.00,623.10H307.20M309.45,623.10H314.25M316.50,623.10H321.70M302.80,608.20V612.60M302.80,618.70V623.10M320.90,608.20V612.60M320.90,618.70V623.10" fill="none" stroke="#17178f" stroke-width="1.6"/>
<text transform="translate(310.9 620.8) scale(0.87 1)" text-anchor="middle" class="n">48</text>
<path d="M149.20,651.60H154.40M156.30,651.60H161.10M163.00,651.60H168.20M149.20,664.00H154.40M156.30,664.00H161.10M163.00,664.00H168.20M150.00,651.60V656.00M150.00,659.60V664.00M167.40,651.60V656.00M167.40,659.60V664.00" fill="none" stroke="#17178f" stroke-width="1.6"/>
<text transform="translate(157.7 662.9) scale(0.87 1)" text-anchor="middle" class="n">18</text>
<path d="M148.20,685.60H153.40M156.20,685.60H161.00M163.80,685.60H169.00M148.20,699.20H153.40M156.20,699.20H161.00M163.80,699.20H169.00M149.00,685.60V690.00M149.00,694.80V699.20M168.20,685.60V690.00M168.20,694.80V699.20" fill="none" stroke="#17178f" stroke-width="1.6"/>
<text transform="translate(157.6 697.5) scale(0.87 1)" text-anchor="middle" class="n">17</text>
<path d="M59.00,657.10H64.20M67.40,657.10H72.20M75.40,657.10H80.60M59.00,669.70H64.20M67.40,669.70H72.20M75.40,669.70H80.60M59.80,657.10V661.50M59.80,665.30V669.70M79.80,657.10V661.50M79.80,665.30V669.70" fill="none" stroke="#17178f" stroke-width="1.6"/>
<text transform="translate(68.8 668.5) scale(0.87 1)" text-anchor="middle" class="n">16</text>
<g stroke="#d62a3c" stroke-width="1.9" fill="none">
<path d="M450.45,368.1 H620" stroke-dasharray="3.5 3.68"/>
<path d="M451.3,372 V532.5" stroke-dasharray="3.5 3.63"/>
<path d="M622.1,368.25 V530" stroke-dasharray="3.5 3.65"/>
<path d="M455.45,533.1 H624" stroke-dasharray="3.5 3.67"/>
</g>
</svg></body></html>
